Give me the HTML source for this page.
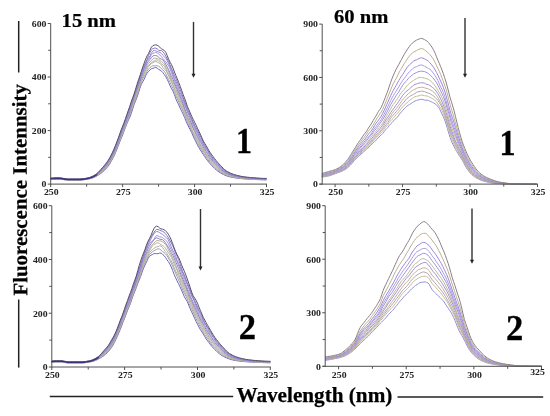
<!DOCTYPE html>
<html><head><meta charset="utf-8"><style>
html,body{margin:0;padding:0;background:#fff;overflow:hidden;}
svg{display:block;will-change:transform;}
text{font-family:"Liberation Serif",serif;font-weight:bold;fill:#111;}
.tl text{font-size:9.6px;fill:#222;}
.big text{font-size:34.5px;text-anchor:middle;fill:#000;stroke:#000;stroke-width:0.3px;}
.title text{font-size:20.6px;fill:#000;stroke:#000;stroke-width:0.25px;}
text.ax{font-size:21.2px;fill:#000;stroke:#000;stroke-width:0.25px;}
</style></head><body>
<svg width="550" height="416" viewBox="0 0 550 416">
<g fill="none" stroke-width="1.0" stroke-linejoin="round">
<path d="M50.70,179.35 L52.14,179.24 L53.58,179.16 L55.02,179.11 L56.45,179.09 L57.89,179.08 L59.33,179.08 L60.77,179.16 L62.21,179.36 L63.65,179.62 L65.09,179.87 L66.53,180.07 L67.96,180.15 L69.40,180.15 L70.84,180.15 L72.28,180.15 L73.72,180.15 L75.16,180.15 L76.60,180.15 L78.03,180.15 L79.47,180.15 L80.91,180.11 L82.35,179.98 L83.79,179.80 L85.23,179.58 L86.67,179.33 L88.11,179.08 L89.54,178.80 L90.98,178.44 L92.42,178.01 L93.86,177.45 L95.30,176.75 L96.74,175.98 L98.18,175.15 L99.61,174.25 L101.05,173.24 L102.49,172.11 L103.93,170.84 L105.37,169.39 L106.81,167.78 L108.25,166.02 L109.69,163.94 L111.12,161.47 L112.56,158.83 L114.00,156.02 L115.44,152.74 L116.88,149.30 L118.32,145.76 L119.76,141.90 L121.19,138.35 L122.63,134.85 L124.07,130.94 L125.51,127.24 L126.95,123.60 L128.39,120.13 L129.83,117.19 L131.27,113.47 L132.70,108.88 L134.14,104.57 L135.58,100.80 L137.02,97.12 L138.46,92.93 L139.90,88.25 L141.34,84.25 L142.77,81.71 L144.21,79.07 L145.65,75.74 L147.09,73.21 L148.53,71.53 L149.97,69.85 L151.41,68.72 L152.85,68.36 L154.28,67.80 L155.72,67.39 L157.16,68.14 L158.60,69.27 L160.04,70.10 L161.48,71.16 L162.92,72.66 L164.35,74.60 L165.79,76.81 L167.23,79.31 L168.67,82.38 L170.11,85.84 L171.55,88.74 L172.99,91.09 L174.43,94.55 L175.86,98.84 L177.30,102.09 L178.74,104.83 L180.18,108.10 L181.62,111.15 L183.06,114.05 L184.50,117.42 L185.93,120.89 L187.37,124.13 L188.81,127.11 L190.25,129.88 L191.69,132.73 L193.13,136.02 L194.57,139.23 L196.01,141.99 L197.44,144.88 L198.88,147.68 L200.32,149.95 L201.76,152.15 L203.20,154.41 L204.64,156.52 L206.08,158.60 L207.51,160.65 L208.95,162.44 L210.39,164.04 L211.83,165.59 L213.27,167.09 L214.71,168.53 L216.15,169.82 L217.59,170.97 L219.02,172.02 L220.46,172.92 L221.90,173.73 L223.34,174.47 L224.78,175.15 L226.22,175.76 L227.66,176.27 L229.09,176.67 L230.53,177.00 L231.97,177.30 L233.41,177.57 L234.85,177.82 L236.29,178.03 L237.73,178.23 L239.17,178.40 L240.60,178.55 L242.04,178.68 L243.48,178.80 L244.92,178.92 L246.36,179.02 L247.80,179.11 L249.24,179.20 L250.67,179.28 L252.11,179.35 L253.55,179.42 L254.99,179.49 L256.43,179.55 L257.87,179.61 L259.31,179.67 L260.75,179.72 L262.18,179.77 L263.62,179.82 L265.06,179.85 L266.50,179.88" stroke="#6c64bc"/>
<path d="M50.70,179.22 L52.14,179.10 L53.58,179.03 L55.02,178.98 L56.45,178.96 L57.89,178.95 L59.33,178.95 L60.77,179.03 L62.21,179.22 L63.65,179.48 L65.09,179.74 L66.53,179.94 L67.96,180.02 L69.40,180.02 L70.84,180.02 L72.28,180.02 L73.72,180.02 L75.16,180.02 L76.60,180.02 L78.03,180.02 L79.47,180.02 L80.91,179.97 L82.35,179.85 L83.79,179.67 L85.23,179.45 L86.67,179.20 L88.11,178.95 L89.54,178.65 L90.98,178.27 L92.42,177.82 L93.86,177.24 L95.30,176.52 L96.74,175.72 L98.18,174.85 L99.61,173.87 L101.05,172.79 L102.49,171.60 L103.93,170.28 L105.37,168.80 L106.81,167.16 L108.25,165.29 L109.69,163.14 L111.12,160.79 L112.56,158.27 L114.00,155.44 L115.44,152.21 L116.88,148.45 L118.32,144.53 L119.76,141.16 L121.19,137.77 L122.63,133.77 L124.07,129.79 L125.51,126.31 L126.95,123.00 L128.39,119.35 L129.83,115.18 L131.27,111.13 L132.70,107.50 L134.14,103.55 L135.58,99.27 L137.02,94.93 L138.46,90.95 L139.90,86.71 L141.34,82.00 L142.77,78.81 L144.21,76.55 L145.65,73.85 L147.09,71.18 L148.53,69.08 L149.97,67.60 L151.41,66.43 L152.85,65.81 L154.28,65.80 L155.72,65.77 L157.16,65.83 L158.60,66.16 L160.04,67.17 L161.48,68.82 L162.92,70.10 L164.35,71.29 L165.79,73.74 L167.23,76.91 L168.67,79.56 L170.11,82.53 L171.55,85.61 L172.99,88.69 L174.43,92.54 L175.86,95.93 L177.30,98.80 L178.74,102.13 L180.18,105.34 L181.62,108.07 L183.06,111.11 L184.50,114.57 L185.93,118.13 L187.37,121.93 L188.81,125.09 L190.25,127.90 L191.69,131.06 L193.13,134.06 L194.57,137.20 L196.01,140.25 L197.44,142.90 L198.88,145.52 L200.32,148.02 L201.76,150.31 L203.20,152.66 L204.64,155.03 L206.08,157.20 L207.51,159.19 L208.95,161.01 L210.39,162.70 L211.83,164.42 L213.27,166.01 L214.71,167.43 L216.15,168.78 L217.59,170.00 L219.02,171.12 L220.46,172.08 L221.90,172.96 L223.34,173.79 L224.78,174.54 L226.22,175.20 L227.66,175.75 L229.09,176.20 L230.53,176.57 L231.97,176.91 L233.41,177.21 L234.85,177.47 L236.29,177.71 L237.73,177.92 L239.17,178.11 L240.60,178.28 L242.04,178.43 L243.48,178.57 L244.92,178.69 L246.36,178.80 L247.80,178.90 L249.24,179.00 L250.67,179.08 L252.11,179.16 L253.55,179.24 L254.99,179.31 L256.43,179.38 L257.87,179.45 L259.31,179.51 L260.75,179.56 L262.18,179.61 L263.62,179.66 L265.06,179.69 L266.50,179.72" stroke="#9e9eaa"/>
<path d="M50.70,179.08 L52.14,178.97 L53.58,178.89 L55.02,178.85 L56.45,178.82 L57.89,178.81 L59.33,178.81 L60.77,178.89 L62.21,179.09 L63.65,179.35 L65.09,179.61 L66.53,179.80 L67.96,179.88 L69.40,179.88 L70.84,179.88 L72.28,179.88 L73.72,179.88 L75.16,179.88 L76.60,179.88 L78.03,179.88 L79.47,179.88 L80.91,179.84 L82.35,179.72 L83.79,179.54 L85.23,179.32 L86.67,179.07 L88.11,178.81 L89.54,178.50 L90.98,178.10 L92.42,177.62 L93.86,177.02 L95.30,176.28 L96.74,175.45 L98.18,174.52 L99.61,173.47 L101.05,172.29 L102.49,171.03 L103.93,169.72 L105.37,168.29 L106.81,166.56 L108.25,164.59 L109.69,162.52 L111.12,160.23 L112.56,157.52 L114.00,154.47 L115.44,151.08 L116.88,147.30 L118.32,143.56 L119.76,140.13 L121.19,136.63 L122.63,132.94 L124.07,129.19 L125.51,125.67 L126.95,121.62 L128.39,117.04 L129.83,113.27 L131.27,109.18 L132.70,104.63 L134.14,101.00 L135.58,97.52 L137.02,93.68 L138.46,89.41 L139.90,84.86 L141.34,80.61 L142.77,76.94 L144.21,74.20 L145.65,71.66 L147.09,68.92 L148.53,66.69 L149.97,64.92 L151.41,63.51 L152.85,62.77 L154.28,61.87 L155.72,61.38 L157.16,62.16 L158.60,62.88 L160.04,63.46 L161.48,65.06 L162.92,67.54 L164.35,69.24 L165.79,70.40 L167.23,72.88 L168.67,76.18 L170.11,79.31 L171.55,82.22 L172.99,85.67 L174.43,89.61 L175.86,93.13 L177.30,96.33 L178.74,99.75 L180.18,103.47 L181.62,107.11 L183.06,110.14 L184.50,113.28 L185.93,116.76 L187.37,119.69 L188.81,122.65 L190.25,126.15 L191.69,129.56 L193.13,132.47 L194.57,135.36 L196.01,138.45 L197.44,141.23 L198.88,143.76 L200.32,146.30 L201.76,148.87 L203.20,151.15 L204.64,153.16 L206.08,155.50 L207.51,157.83 L208.95,159.77 L210.39,161.48 L211.83,163.16 L213.27,164.77 L214.71,166.25 L216.15,167.67 L217.59,168.94 L219.02,170.06 L220.46,171.11 L221.90,172.12 L223.34,173.05 L224.78,173.88 L226.22,174.60 L227.66,175.19 L229.09,175.68 L230.53,176.10 L231.97,176.48 L233.41,176.81 L234.85,177.10 L236.29,177.36 L237.73,177.60 L239.17,177.81 L240.60,178.00 L242.04,178.17 L243.48,178.33 L244.92,178.46 L246.36,178.58 L247.80,178.69 L249.24,178.79 L250.67,178.88 L252.11,178.97 L253.55,179.05 L254.99,179.13 L256.43,179.21 L257.87,179.28 L259.31,179.34 L260.75,179.40 L262.18,179.45 L263.62,179.49 L265.06,179.53 L266.50,179.56" stroke="#aeb0a0"/>
<path d="M50.70,178.95 L52.14,178.83 L53.58,178.76 L55.02,178.71 L56.45,178.69 L57.89,178.68 L59.33,178.68 L60.77,178.76 L62.21,178.96 L63.65,179.22 L65.09,179.47 L66.53,179.67 L67.96,179.75 L69.40,179.75 L70.84,179.75 L72.28,179.75 L73.72,179.75 L75.16,179.75 L76.60,179.75 L78.03,179.75 L79.47,179.75 L80.91,179.71 L82.35,179.59 L83.79,179.41 L85.23,179.19 L86.67,178.94 L88.11,178.68 L89.54,178.36 L90.98,177.94 L92.42,177.44 L93.86,176.83 L95.30,176.07 L96.74,175.22 L98.18,174.25 L99.61,173.14 L101.05,171.93 L102.49,170.63 L103.93,169.21 L105.37,167.68 L106.81,165.98 L108.25,164.05 L109.69,161.92 L111.12,159.50 L112.56,156.64 L114.00,153.65 L115.44,150.54 L116.88,146.82 L118.32,143.01 L119.76,139.20 L121.19,135.07 L122.63,131.53 L124.07,128.34 L125.51,124.40 L126.95,120.36 L128.39,116.59 L129.83,112.71 L131.27,108.77 L132.70,104.41 L134.14,100.21 L135.58,96.54 L137.02,92.60 L138.46,88.35 L139.90,84.21 L141.34,80.42 L142.77,76.76 L144.21,73.02 L145.65,69.39 L147.09,66.91 L148.53,65.74 L149.97,64.09 L151.41,62.39 L152.85,61.64 L154.28,60.85 L155.72,60.05 L157.16,59.96 L158.60,60.93 L160.04,62.40 L161.48,63.71 L162.92,64.78 L164.35,66.17 L165.79,68.82 L167.23,71.80 L168.67,74.51 L170.11,77.65 L171.55,81.19 L172.99,84.67 L174.43,87.82 L175.86,90.78 L177.30,93.71 L178.74,97.15 L180.18,100.82 L181.62,104.28 L183.06,107.66 L184.50,110.91 L185.93,114.32 L187.37,118.00 L188.81,121.54 L190.25,124.86 L191.69,128.46 L193.13,131.66 L194.57,134.25 L196.01,136.89 L197.44,139.28 L198.88,141.83 L200.32,144.92 L201.76,147.63 L203.20,149.84 L204.64,152.09 L206.08,154.40 L207.51,156.53 L208.95,158.48 L210.39,160.43 L211.83,162.26 L213.27,163.84 L214.71,165.37 L216.15,166.82 L217.59,168.14 L219.02,169.35 L220.46,170.44 L221.90,171.49 L223.34,172.49 L224.78,173.38 L226.22,174.13 L227.66,174.76 L229.09,175.29 L230.53,175.74 L231.97,176.14 L233.41,176.49 L234.85,176.81 L236.29,177.08 L237.73,177.34 L239.17,177.56 L240.60,177.77 L242.04,177.95 L243.48,178.12 L244.92,178.26 L246.36,178.38 L247.80,178.50 L249.24,178.60 L250.67,178.70 L252.11,178.79 L253.55,178.88 L254.99,178.96 L256.43,179.04 L257.87,179.12 L259.31,179.18 L260.75,179.24 L262.18,179.30 L263.62,179.34 L265.06,179.37 L266.50,179.40" stroke="#b8b0a0"/>
<path d="M50.70,178.81 L52.14,178.70 L53.58,178.63 L55.02,178.58 L56.45,178.56 L57.89,178.55 L59.33,178.55 L60.77,178.63 L62.21,178.82 L63.65,179.08 L65.09,179.34 L66.53,179.54 L67.96,179.62 L69.40,179.62 L70.84,179.62 L72.28,179.62 L73.72,179.62 L75.16,179.62 L76.60,179.62 L78.03,179.62 L79.47,179.62 L80.91,179.57 L82.35,179.46 L83.79,179.28 L85.23,179.06 L86.67,178.81 L88.11,178.55 L89.54,178.22 L90.98,177.78 L92.42,177.26 L93.86,176.63 L95.30,175.86 L96.74,174.98 L98.18,173.96 L99.61,172.79 L101.05,171.52 L102.49,170.18 L103.93,168.73 L105.37,167.12 L106.81,165.40 L108.25,163.45 L109.69,161.13 L111.12,158.67 L112.56,155.98 L114.00,152.84 L115.44,149.42 L116.88,145.87 L118.32,142.12 L119.76,138.56 L121.19,135.04 L122.63,130.86 L124.07,126.84 L125.51,123.35 L126.95,119.95 L128.39,116.69 L129.83,112.91 L131.27,108.29 L132.70,103.77 L134.14,99.65 L135.58,95.20 L137.02,90.77 L138.46,86.62 L139.90,82.10 L141.34,78.05 L142.77,74.89 L144.21,71.82 L145.65,68.86 L147.09,65.74 L148.53,63.38 L149.97,62.03 L151.41,60.49 L152.85,58.93 L154.28,58.11 L155.72,58.15 L157.16,58.59 L158.60,59.33 L160.04,60.45 L161.48,61.57 L162.92,62.52 L164.35,64.11 L165.79,66.90 L167.23,69.48 L168.67,71.92 L170.11,75.52 L171.55,79.06 L172.99,82.02 L174.43,85.07 L175.86,88.45 L177.30,92.14 L178.74,95.43 L180.18,98.43 L181.62,102.07 L183.06,105.80 L184.50,109.14 L185.93,113.13 L187.37,117.09 L188.81,120.04 L190.25,122.86 L191.69,125.90 L193.13,128.86 L194.57,131.78 L196.01,134.82 L197.44,137.61 L198.88,140.50 L200.32,143.81 L201.76,146.56 L203.20,148.78 L204.64,151.23 L206.08,153.58 L207.51,155.58 L208.95,157.62 L210.39,159.54 L211.83,161.08 L213.27,162.60 L214.71,164.25 L216.15,165.83 L217.59,167.25 L219.02,168.54 L220.46,169.70 L221.90,170.81 L223.34,171.87 L224.78,172.82 L226.22,173.62 L227.66,174.28 L229.09,174.85 L230.53,175.33 L231.97,175.77 L233.41,176.15 L234.85,176.48 L236.29,176.78 L237.73,177.05 L239.17,177.30 L240.60,177.52 L242.04,177.72 L243.48,177.89 L244.92,178.05 L246.36,178.18 L247.80,178.30 L249.24,178.41 L250.67,178.51 L252.11,178.61 L253.55,178.70 L254.99,178.79 L256.43,178.88 L257.87,178.95 L259.31,179.02 L260.75,179.09 L262.18,179.14 L263.62,179.18 L265.06,179.22 L266.50,179.24" stroke="#b2aa96"/>
<path d="M50.70,178.68 L52.14,178.57 L53.58,178.49 L55.02,178.45 L56.45,178.42 L57.89,178.41 L59.33,178.41 L60.77,178.49 L62.21,178.69 L63.65,178.95 L65.09,179.21 L66.53,179.40 L67.96,179.48 L69.40,179.48 L70.84,179.48 L72.28,179.48 L73.72,179.48 L75.16,179.48 L76.60,179.48 L78.03,179.48 L79.47,179.48 L80.91,179.44 L82.35,179.32 L83.79,179.15 L85.23,178.93 L86.67,178.68 L88.11,178.41 L89.54,178.07 L90.98,177.61 L92.42,177.06 L93.86,176.42 L95.30,175.63 L96.74,174.72 L98.18,173.65 L99.61,172.43 L101.05,171.09 L102.49,169.70 L103.93,168.22 L105.37,166.59 L106.81,164.79 L108.25,162.73 L109.69,160.52 L111.12,158.15 L112.56,155.35 L114.00,152.34 L115.44,148.97 L116.88,145.40 L118.32,141.85 L119.76,137.93 L121.19,133.84 L122.63,130.03 L124.07,126.40 L125.51,122.60 L126.95,118.94 L128.39,115.25 L129.83,110.90 L131.27,106.24 L132.70,101.62 L134.14,97.17 L135.58,93.20 L137.02,89.24 L138.46,85.18 L139.90,81.28 L141.34,76.88 L142.77,72.80 L144.21,69.66 L145.65,66.55 L147.09,63.52 L148.53,61.22 L149.97,59.47 L151.41,57.61 L152.85,55.98 L154.28,55.47 L155.72,55.55 L157.16,55.94 L158.60,57.25 L160.04,58.57 L161.48,59.16 L162.92,59.88 L164.35,61.70 L165.79,64.45 L167.23,67.12 L168.67,69.78 L170.11,73.17 L171.55,76.43 L172.99,79.44 L174.43,83.00 L175.86,86.35 L177.30,89.62 L178.74,93.19 L180.18,96.40 L181.62,99.65 L183.06,103.78 L184.50,108.10 L185.93,111.66 L187.37,114.60 L188.81,117.55 L190.25,120.76 L191.69,124.11 L193.13,127.39 L194.57,130.44 L196.01,133.25 L197.44,136.03 L198.88,138.90 L200.32,141.46 L201.76,143.90 L203.20,146.74 L204.64,149.36 L206.08,151.46 L207.51,153.79 L208.95,156.07 L210.39,158.00 L211.83,159.88 L213.27,161.70 L214.71,163.36 L216.15,164.87 L217.59,166.24 L219.02,167.55 L220.46,168.82 L221.90,170.01 L223.34,171.16 L224.78,172.21 L226.22,173.07 L227.66,173.77 L229.09,174.37 L230.53,174.90 L231.97,175.37 L233.41,175.78 L234.85,176.14 L236.29,176.46 L237.73,176.75 L239.17,177.01 L240.60,177.25 L242.04,177.47 L243.48,177.66 L244.92,177.83 L246.36,177.97 L247.80,178.09 L249.24,178.21 L250.67,178.32 L252.11,178.42 L253.55,178.52 L254.99,178.62 L256.43,178.71 L257.87,178.79 L259.31,178.86 L260.75,178.93 L262.18,178.98 L263.62,179.02 L265.06,179.06 L266.50,179.08" stroke="#8a7ec6"/>
<path d="M50.70,178.55 L52.14,178.43 L53.58,178.36 L55.02,178.31 L56.45,178.29 L57.89,178.28 L59.33,178.28 L60.77,178.36 L62.21,178.56 L63.65,178.81 L65.09,179.07 L66.53,179.27 L67.96,179.35 L69.40,179.35 L70.84,179.35 L72.28,179.35 L73.72,179.35 L75.16,179.35 L76.60,179.35 L78.03,179.35 L79.47,179.35 L80.91,179.31 L82.35,179.19 L83.79,179.02 L85.23,178.80 L86.67,178.54 L88.11,178.28 L89.54,177.92 L90.98,177.44 L92.42,176.87 L93.86,176.21 L95.30,175.40 L96.74,174.46 L98.18,173.34 L99.61,172.03 L101.05,170.59 L102.49,169.11 L103.93,167.64 L105.37,166.02 L106.81,164.16 L108.25,162.06 L109.69,159.78 L111.12,157.33 L112.56,154.60 L114.00,151.61 L115.44,148.25 L116.88,144.49 L118.32,140.35 L119.76,136.28 L121.19,132.86 L122.63,129.27 L124.07,125.41 L125.51,121.81 L126.95,117.91 L128.39,113.57 L129.83,109.61 L131.27,105.69 L132.70,101.19 L134.14,96.95 L135.58,92.64 L137.02,88.02 L138.46,83.52 L139.90,79.15 L141.34,75.22 L142.77,71.57 L144.21,68.20 L145.65,64.85 L147.09,61.63 L148.53,59.66 L149.97,57.44 L151.41,54.58 L152.85,53.41 L154.28,52.95 L155.72,52.45 L157.16,52.92 L158.60,53.97 L160.04,55.22 L161.48,56.65 L162.92,58.42 L164.35,60.16 L165.79,61.84 L167.23,63.93 L168.67,66.05 L170.11,68.98 L171.55,72.90 L172.99,76.48 L174.43,80.05 L175.86,83.90 L177.30,87.87 L178.74,91.60 L180.18,95.02 L181.62,98.39 L183.06,101.71 L184.50,104.96 L185.93,108.12 L187.37,111.67 L188.81,115.10 L190.25,118.17 L191.69,121.57 L193.13,125.02 L194.57,128.19 L196.01,131.02 L197.44,133.72 L198.88,136.68 L200.32,139.67 L201.76,142.54 L203.20,145.25 L204.64,147.84 L206.08,150.25 L207.51,152.39 L208.95,154.59 L210.39,156.71 L211.83,158.62 L213.27,160.46 L214.71,162.14 L216.15,163.68 L217.59,165.24 L219.02,166.70 L220.46,168.02 L221.90,169.29 L223.34,170.49 L224.78,171.59 L226.22,172.50 L227.66,173.25 L229.09,173.90 L230.53,174.47 L231.97,174.97 L233.41,175.41 L234.85,175.79 L236.29,176.13 L237.73,176.44 L239.17,176.73 L240.60,176.99 L242.04,177.22 L243.48,177.43 L244.92,177.60 L246.36,177.75 L247.80,177.88 L249.24,178.00 L250.67,178.12 L252.11,178.24 L253.55,178.34 L254.99,178.44 L256.43,178.54 L257.87,178.62 L259.31,178.70 L260.75,178.77 L262.18,178.82 L263.62,178.86 L265.06,178.90 L266.50,178.91" stroke="#a294d6"/>
<path d="M50.70,178.41 L52.14,178.30 L53.58,178.22 L55.02,178.18 L56.45,178.15 L57.89,178.15 L59.33,178.14 L60.77,178.22 L62.21,178.42 L63.65,178.68 L65.09,178.94 L66.53,179.14 L67.96,179.22 L69.40,179.22 L70.84,179.22 L72.28,179.22 L73.72,179.22 L75.16,179.22 L76.60,179.22 L78.03,179.22 L79.47,179.22 L80.91,179.17 L82.35,179.06 L83.79,178.88 L85.23,178.66 L86.67,178.41 L88.11,178.14 L89.54,177.78 L90.98,177.27 L92.42,176.69 L93.86,176.01 L95.30,175.18 L96.74,174.22 L98.18,173.05 L99.61,171.68 L101.05,170.22 L102.49,168.73 L103.93,167.13 L105.37,165.48 L106.81,163.71 L108.25,161.56 L109.69,159.16 L111.12,156.67 L112.56,153.90 L114.00,150.76 L115.44,147.19 L116.88,143.25 L118.32,139.39 L119.76,135.62 L121.19,131.83 L122.63,128.37 L124.07,124.74 L125.51,120.46 L126.95,116.37 L128.39,112.81 L129.83,108.96 L131.27,105.10 L132.70,101.12 L134.14,96.11 L135.58,91.62 L137.02,87.86 L138.46,83.41 L139.90,78.67 L141.34,74.44 L142.77,71.08 L144.21,67.25 L145.65,62.82 L147.09,59.88 L148.53,58.24 L149.97,55.76 L151.41,53.06 L152.85,51.12 L154.28,50.25 L155.72,50.72 L157.16,51.46 L158.60,52.00 L160.04,52.45 L161.48,53.56 L162.92,55.46 L164.35,56.89 L165.79,58.14 L167.23,60.66 L168.67,63.77 L170.11,66.85 L171.55,70.56 L172.99,74.54 L174.43,78.26 L175.86,81.33 L177.30,84.61 L178.74,88.79 L180.18,92.63 L181.62,95.88 L183.06,99.17 L184.50,102.95 L185.93,107.34 L187.37,111.12 L188.81,113.72 L190.25,116.33 L191.69,119.63 L193.13,123.17 L194.57,126.41 L196.01,129.41 L197.44,132.35 L198.88,135.37 L200.32,138.46 L201.76,141.28 L203.20,143.81 L204.64,146.28 L206.08,148.56 L207.51,150.72 L208.95,153.02 L210.39,155.48 L211.83,157.76 L213.27,159.60 L214.71,161.22 L216.15,162.89 L217.59,164.46 L219.02,165.80 L220.46,167.17 L221.90,168.62 L223.34,169.93 L224.78,171.07 L226.22,172.00 L227.66,172.77 L229.09,173.46 L230.53,174.07 L231.97,174.60 L233.41,175.07 L234.85,175.47 L236.29,175.83 L237.73,176.16 L239.17,176.46 L240.60,176.74 L242.04,176.99 L243.48,177.21 L244.92,177.39 L246.36,177.55 L247.80,177.68 L249.24,177.81 L250.67,177.94 L252.11,178.05 L253.55,178.17 L254.99,178.27 L256.43,178.37 L257.87,178.46 L259.31,178.54 L260.75,178.61 L262.18,178.66 L263.62,178.71 L265.06,178.74 L266.50,178.75" stroke="#9484cc"/>
<path d="M50.70,178.28 L52.14,178.17 L53.58,178.09 L55.02,178.04 L56.45,178.02 L57.89,178.01 L59.33,178.01 L60.77,178.09 L62.21,178.29 L63.65,178.55 L65.09,178.80 L66.53,179.00 L67.96,179.08 L69.40,179.08 L70.84,179.08 L72.28,179.08 L73.72,179.08 L75.16,179.08 L76.60,179.08 L78.03,179.08 L79.47,179.08 L80.91,179.04 L82.35,178.93 L83.79,178.75 L85.23,178.53 L86.67,178.28 L88.11,178.01 L89.54,177.63 L90.98,177.11 L92.42,176.49 L93.86,175.80 L95.30,174.95 L96.74,173.96 L98.18,172.74 L99.61,171.31 L101.05,169.75 L102.49,168.14 L103.93,166.52 L105.37,164.87 L106.81,163.02 L108.25,160.81 L109.69,158.37 L111.12,155.92 L112.56,153.21 L114.00,149.97 L115.44,146.38 L116.88,142.56 L118.32,138.81 L119.76,135.19 L121.19,131.03 L122.63,127.13 L124.07,123.83 L125.51,119.61 L126.95,115.12 L128.39,111.14 L129.83,106.62 L131.27,102.14 L132.70,98.55 L134.14,94.93 L135.58,90.56 L137.02,85.89 L138.46,81.50 L139.90,77.14 L141.34,72.59 L142.77,68.62 L144.21,65.53 L145.65,62.68 L147.09,59.18 L148.53,55.45 L149.97,52.40 L151.41,49.94 L152.85,48.57 L154.28,48.16 L155.72,48.09 L157.16,48.84 L158.60,50.14 L160.04,50.54 L161.48,50.59 L162.92,51.75 L164.35,53.59 L165.79,56.08 L167.23,58.91 L168.67,61.58 L170.11,64.87 L171.55,68.50 L172.99,71.95 L174.43,75.40 L175.86,78.45 L177.30,81.87 L178.74,85.73 L180.18,89.38 L181.62,93.30 L183.06,97.29 L184.50,101.13 L185.93,104.74 L187.37,108.23 L188.81,111.91 L190.25,115.45 L191.69,118.73 L193.13,122.04 L194.57,125.15 L196.01,127.77 L197.44,130.37 L198.88,133.27 L200.32,136.09 L201.76,138.88 L203.20,141.99 L204.64,144.75 L206.08,147.20 L207.51,149.78 L208.95,152.17 L210.39,154.39 L211.83,156.52 L213.27,158.43 L214.71,160.10 L216.15,161.80 L217.59,163.40 L219.02,164.82 L220.46,166.29 L221.90,167.81 L223.34,169.22 L224.78,170.45 L226.22,171.44 L227.66,172.25 L229.09,172.98 L230.53,173.63 L231.97,174.20 L233.41,174.70 L234.85,175.13 L236.29,175.50 L237.73,175.86 L239.17,176.18 L240.60,176.48 L242.04,176.74 L243.48,176.97 L244.92,177.17 L246.36,177.33 L247.80,177.47 L249.24,177.61 L250.67,177.74 L252.11,177.87 L253.55,177.99 L254.99,178.10 L256.43,178.20 L257.87,178.29 L259.31,178.38 L260.75,178.45 L262.18,178.50 L263.62,178.55 L265.06,178.58 L266.50,178.59" stroke="#8474c2"/>
<path d="M50.70,178.14 L52.14,178.03 L53.58,177.96 L55.02,177.91 L56.45,177.89 L57.89,177.88 L59.33,177.88 L60.77,177.96 L62.21,178.15 L63.65,178.41 L65.09,178.67 L66.53,178.87 L67.96,178.95 L69.40,178.95 L70.84,178.95 L72.28,178.95 L73.72,178.95 L75.16,178.95 L76.60,178.95 L78.03,178.95 L79.47,178.95 L80.91,178.91 L82.35,178.80 L83.79,178.62 L85.23,178.41 L86.67,178.15 L88.11,177.88 L89.54,177.49 L90.98,176.93 L92.42,176.29 L93.86,175.57 L95.30,174.70 L96.74,173.68 L98.18,172.38 L99.61,170.85 L101.05,169.22 L102.49,167.60 L103.93,165.97 L105.37,164.16 L106.81,162.26 L108.25,160.25 L109.69,157.85 L111.12,155.11 L112.56,152.20 L114.00,149.01 L115.44,145.49 L116.88,141.78 L118.32,137.89 L119.76,133.75 L121.19,129.75 L122.63,126.20 L124.07,122.53 L125.51,118.44 L126.95,114.31 L128.39,110.30 L129.83,106.24 L131.27,101.79 L132.70,97.69 L134.14,93.77 L135.58,89.12 L137.02,84.32 L138.46,79.91 L139.90,75.83 L141.34,71.44 L142.77,66.98 L144.21,63.00 L145.65,59.05 L147.09,55.82 L148.53,53.44 L149.97,50.26 L151.41,47.17 L152.85,45.69 L154.28,45.09 L155.72,44.88 L157.16,45.21 L158.60,46.08 L160.04,47.50 L161.48,48.79 L162.92,49.59 L164.35,50.56 L165.79,52.37 L167.23,55.58 L168.67,59.40 L170.11,62.26 L171.55,64.68 L172.99,68.05 L174.43,72.02 L175.86,75.51 L177.30,78.89 L178.74,82.49 L180.18,86.27 L181.62,90.28 L183.06,94.36 L184.50,98.05 L185.93,102.01 L187.37,106.35 L188.81,109.68 L190.25,112.85 L191.69,116.29 L193.13,119.23 L194.57,122.11 L196.01,125.05 L197.44,128.15 L198.88,131.15 L200.32,134.14 L201.76,137.44 L203.20,140.69 L204.64,143.27 L206.08,145.47 L207.51,148.09 L208.95,150.67 L210.39,152.87 L211.83,154.91 L213.27,156.83 L214.71,158.73 L216.15,160.57 L217.59,162.25 L219.02,163.84 L220.46,165.38 L221.90,166.87 L223.34,168.36 L224.78,169.77 L226.22,170.84 L227.66,171.65 L229.09,172.42 L230.53,173.13 L231.97,173.75 L233.41,174.28 L234.85,174.74 L236.29,175.14 L237.73,175.52 L239.17,175.87 L240.60,176.18 L242.04,176.47 L243.48,176.72 L244.92,176.93 L246.36,177.10 L247.80,177.25 L249.24,177.39 L250.67,177.53 L252.11,177.67 L253.55,177.79 L254.99,177.91 L256.43,178.02 L257.87,178.12 L259.31,178.21 L260.75,178.28 L262.18,178.34 L263.62,178.38 L265.06,178.41 L266.50,178.42" stroke="#58526a"/>
<path d="M50.70,178.75 L52.14,178.63 L53.58,178.56 L55.02,178.51 L56.45,178.49 L57.89,178.48 L59.33,178.48 L60.77,178.56 L62.21,178.76 L63.65,179.01 L65.09,179.27 L66.53,179.47 L67.96,179.55 L69.40,179.55 L70.84,179.55 L72.28,179.55 L73.72,179.55 L75.16,179.55 L76.60,179.55 L78.03,179.55 L79.47,179.55 L80.91,179.51 L82.35,179.39 L83.79,179.21 L85.23,178.99 L86.67,178.74 L88.11,178.48 L89.54,178.14 L90.98,177.68 L92.42,177.14 L93.86,176.50 L95.30,175.71 L96.74,174.81" stroke="#3c3080" stroke-width="1.3" stroke-linecap="round"/>
<path d="M51.80,362.23 L53.26,362.11 L54.71,362.04 L56.17,361.99 L57.63,361.97 L59.08,361.96 L60.54,361.96 L62.00,362.04 L63.45,362.24 L64.91,362.50 L66.37,362.76 L67.82,362.96 L69.28,363.03 L70.74,363.03 L72.19,363.03 L73.65,363.03 L75.11,363.03 L76.56,363.03 L78.02,363.03 L79.48,363.03 L80.93,363.03 L82.39,362.99 L83.85,362.86 L85.30,362.68 L86.76,362.45 L88.22,362.21 L89.67,361.96 L91.13,361.69 L92.59,361.35 L94.04,360.95 L95.50,360.41 L96.96,359.72 L98.41,358.98 L99.87,358.21 L101.33,357.37 L102.78,356.44 L104.24,355.39 L105.70,354.16 L107.15,352.71 L108.61,351.11 L110.07,349.38 L111.52,347.46 L112.98,345.14 L114.44,342.33 L115.89,339.41 L117.35,336.39 L118.81,332.98 L120.26,329.39 L121.72,325.55 L123.18,321.71 L124.63,318.14 L126.09,314.32 L127.55,310.30 L129.00,306.84 L130.46,303.36 L131.92,299.07 L133.37,294.94 L134.83,291.41 L136.29,287.68 L137.74,283.64 L139.20,280.00 L140.66,276.31 L142.11,272.06 L143.57,268.28 L145.03,265.03 L146.48,261.96 L147.94,258.87 L149.40,256.30 L150.85,255.21 L152.31,254.62 L153.77,253.72 L155.22,253.45 L156.68,253.78 L158.14,253.69 L159.59,253.00 L161.05,253.00 L162.51,254.24 L163.96,255.50 L165.42,257.32 L166.88,259.70 L168.33,261.60 L169.79,264.04 L171.25,267.01 L172.70,270.57 L174.16,274.46 L175.62,277.76 L177.07,280.83 L178.53,283.70 L179.99,286.78 L181.44,289.98 L182.90,293.28 L184.36,296.82 L185.81,299.27 L187.27,301.51 L188.73,305.06 L190.18,308.80 L191.64,311.87 L193.10,314.90 L194.55,318.18 L196.01,321.39 L197.47,324.17 L198.92,326.94 L200.38,329.64 L201.84,331.88 L203.29,334.07 L204.75,336.63 L206.21,339.07 L207.66,340.98 L209.12,342.85 L210.58,344.79 L212.03,346.58 L213.49,348.19 L214.95,349.69 L216.40,351.10 L217.86,352.42 L219.32,353.65 L220.77,354.77 L222.23,355.75 L223.69,356.57 L225.14,357.28 L226.60,357.94 L228.06,358.55 L229.51,359.09 L230.97,359.56 L232.43,359.92 L233.88,360.21 L235.34,360.47 L236.80,360.71 L238.25,360.93 L239.71,361.12 L241.17,361.29 L242.62,361.44 L244.08,361.57 L245.54,361.68 L246.99,361.79 L248.45,361.89 L249.91,361.98 L251.36,362.07 L252.82,362.15 L254.28,362.22 L255.73,362.29 L257.19,362.35 L258.65,362.41 L260.10,362.47 L261.56,362.53 L263.02,362.58 L264.47,362.63 L265.93,362.68 L267.39,362.73 L268.84,362.76 L270.30,362.80" stroke="#6c64bc"/>
<path d="M51.80,362.09 L53.26,361.98 L54.71,361.90 L56.17,361.86 L57.63,361.83 L59.08,361.83 L60.54,361.82 L62.00,361.90 L63.45,362.10 L64.91,362.36 L66.37,362.62 L67.82,362.82 L69.28,362.90 L70.74,362.90 L72.19,362.90 L73.65,362.90 L75.11,362.90 L76.56,362.90 L78.02,362.90 L79.48,362.90 L80.93,362.90 L82.39,362.86 L83.85,362.73 L85.30,362.55 L86.76,362.33 L88.22,362.08 L89.67,361.82 L91.13,361.54 L92.59,361.17 L94.04,360.74 L95.50,360.17 L96.96,359.46 L98.41,358.68 L99.87,357.84 L101.33,356.91 L102.78,355.89 L104.24,354.75 L105.70,353.46 L107.15,352.00 L108.61,350.38 L110.07,348.61 L111.52,346.61 L112.98,344.18 L114.44,341.35 L115.89,338.37 L117.35,335.25 L118.81,331.87 L120.26,328.12 L121.72,324.36 L123.18,320.84 L124.63,317.48 L126.09,313.78 L127.55,309.99 L129.00,306.63 L130.46,302.49 L131.92,297.69 L133.37,293.78 L134.83,290.43 L136.29,286.82 L137.74,282.90 L139.20,278.27 L140.66,273.35 L142.11,269.32 L143.57,265.91 L145.03,262.83 L146.48,259.77 L147.94,256.86 L149.40,254.67 L150.85,253.06 L152.31,251.89 L153.77,250.99 L155.22,250.08 L156.68,249.24 L158.14,248.85 L159.59,249.05 L161.05,250.17 L162.51,251.53 L163.96,252.52 L165.42,253.76 L166.88,255.54 L168.33,258.01 L169.79,260.66 L171.25,263.17 L172.70,266.43 L174.16,269.84 L175.62,273.01 L177.07,276.63 L178.53,279.96 L179.99,282.94 L181.44,286.73 L182.90,290.53 L184.36,293.43 L185.81,295.99 L187.27,299.06 L188.73,302.90 L190.18,306.24 L191.64,308.88 L193.10,311.90 L194.55,315.18 L196.01,318.45 L197.47,321.52 L198.92,324.31 L200.38,327.09 L201.84,329.70 L203.29,332.16 L204.75,334.68 L206.21,336.98 L207.66,338.87 L209.12,340.92 L210.58,343.17 L212.03,345.11 L213.49,346.74 L214.95,348.21 L216.40,349.66 L217.86,351.05 L219.32,352.32 L220.77,353.49 L222.23,354.54 L223.69,355.47 L225.14,356.30 L226.60,357.07 L228.06,357.77 L229.51,358.39 L230.97,358.91 L232.43,359.33 L233.88,359.67 L235.34,359.98 L236.80,360.26 L238.25,360.51 L239.71,360.73 L241.17,360.93 L242.62,361.10 L244.08,361.26 L245.54,361.40 L246.99,361.52 L248.45,361.64 L249.91,361.74 L251.36,361.84 L252.82,361.93 L254.28,362.01 L255.73,362.08 L257.19,362.15 L258.65,362.22 L260.10,362.29 L261.56,362.35 L263.02,362.41 L264.47,362.46 L265.93,362.51 L267.39,362.56 L268.84,362.59 L270.30,362.62" stroke="#9e9eaa"/>
<path d="M51.80,361.96 L53.26,361.85 L54.71,361.77 L56.17,361.72 L57.63,361.70 L59.08,361.69 L60.54,361.69 L62.00,361.77 L63.45,361.97 L64.91,362.23 L66.37,362.49 L67.82,362.69 L69.28,362.77 L70.74,362.77 L72.19,362.77 L73.65,362.77 L75.11,362.77 L76.56,362.77 L78.02,362.77 L79.48,362.77 L80.93,362.77 L82.39,362.72 L83.85,362.60 L85.30,362.42 L86.76,362.19 L88.22,361.95 L89.67,361.69 L91.13,361.39 L92.59,361.00 L94.04,360.53 L95.50,359.94 L96.96,359.21 L98.41,358.40 L99.87,357.49 L101.33,356.48 L102.78,355.37 L104.24,354.13 L105.70,352.80 L107.15,351.29 L108.61,349.59 L110.07,347.79 L111.52,345.71 L112.98,343.23 L114.44,340.48 L115.89,337.49 L117.35,334.09 L118.81,330.50 L120.26,326.90 L121.72,323.05 L123.18,319.25 L124.63,315.61 L126.09,311.85 L127.55,308.06 L129.00,304.26 L130.46,300.70 L131.92,297.22 L133.37,293.17 L134.83,289.11 L136.29,285.39 L137.74,281.01 L139.20,276.34 L140.66,272.41 L142.11,268.73 L143.57,264.48 L145.03,260.37 L146.48,257.71 L147.94,255.44 L149.40,252.73 L150.85,250.84 L152.31,249.71 L153.77,248.60 L155.22,247.44 L156.68,246.86 L158.14,246.58 L159.59,245.87 L161.05,246.01 L162.51,247.52 L163.96,249.53 L165.42,251.54 L166.88,253.36 L168.33,255.86 L169.79,258.69 L171.25,260.98 L172.70,263.94 L174.16,267.71 L175.62,271.07 L177.07,273.55 L178.53,276.33 L179.99,280.10 L181.44,283.72 L182.90,287.07 L184.36,291.05 L185.81,294.38 L187.27,296.37 L188.73,299.34 L190.18,303.31 L191.64,306.48 L193.10,309.58 L194.55,313.19 L196.01,316.24 L197.47,318.77 L198.92,321.64 L200.38,324.88 L201.84,327.71 L203.29,330.17 L204.75,332.49 L206.21,334.73 L207.66,337.06 L209.12,339.23 L210.58,341.27 L212.03,343.32 L213.49,345.13 L214.95,346.65 L216.40,348.16 L217.86,349.63 L219.32,351.03 L220.77,352.33 L222.23,353.48 L223.69,354.47 L225.14,355.39 L226.60,356.27 L228.06,357.06 L229.51,357.74 L230.97,358.31 L232.43,358.78 L233.88,359.17 L235.34,359.52 L236.80,359.84 L238.25,360.11 L239.71,360.36 L241.17,360.59 L242.62,360.79 L244.08,360.96 L245.54,361.12 L246.99,361.27 L248.45,361.40 L249.91,361.51 L251.36,361.61 L252.82,361.71 L254.28,361.80 L255.73,361.88 L257.19,361.96 L258.65,362.04 L260.10,362.11 L261.56,362.18 L263.02,362.24 L264.47,362.30 L265.93,362.35 L267.39,362.39 L268.84,362.43 L270.30,362.45" stroke="#aeb0a0"/>
<path d="M51.80,361.82 L53.26,361.71 L54.71,361.64 L56.17,361.59 L57.63,361.57 L59.08,361.56 L60.54,361.56 L62.00,361.64 L63.45,361.83 L64.91,362.09 L66.37,362.35 L67.82,362.55 L69.28,362.63 L70.74,362.63 L72.19,362.63 L73.65,362.63 L75.11,362.63 L76.56,362.63 L78.02,362.63 L79.48,362.63 L80.93,362.63 L82.39,362.59 L83.85,362.47 L85.30,362.29 L86.76,362.06 L88.22,361.82 L89.67,361.56 L91.13,361.24 L92.59,360.82 L94.04,360.33 L95.50,359.72 L96.96,358.97 L98.41,358.12 L99.87,357.16 L101.33,356.08 L102.78,354.88 L104.24,353.56 L105.70,352.11 L107.15,350.52 L108.61,348.84 L110.07,347.04 L111.52,344.96 L112.98,342.50 L114.44,339.72 L115.89,336.84 L117.35,333.60 L118.81,330.01 L120.26,326.05 L121.72,322.07 L123.18,318.72 L124.63,314.89 L126.09,310.52 L127.55,306.76 L129.00,303.60 L130.46,299.68 L131.92,294.61 L133.37,290.50 L134.83,287.34 L136.29,283.62 L137.74,279.67 L139.20,275.78 L140.66,271.13 L142.11,266.22 L143.57,262.40 L145.03,259.22 L146.48,255.97 L147.94,253.40 L149.40,251.02 L150.85,248.33 L152.31,246.04 L153.77,244.63 L155.22,243.85 L156.68,243.02 L158.14,242.82 L159.59,243.59 L161.05,244.70 L162.51,245.56 L163.96,246.39 L165.42,248.11 L166.88,250.42 L168.33,252.65 L169.79,254.87 L171.25,257.35 L172.70,260.52 L174.16,264.12 L175.62,267.26 L177.07,270.30 L178.53,274.16 L179.99,278.03 L181.44,281.21 L182.90,284.31 L184.36,287.80 L185.81,291.47 L187.27,294.73 L188.73,297.68 L190.18,300.88 L191.64,304.46 L193.10,308.00 L194.55,310.89 L196.01,313.80 L197.47,316.86 L198.92,319.56 L200.38,322.39 L201.84,325.38 L203.29,328.14 L204.75,330.54 L206.21,332.94 L207.66,335.26 L209.12,337.38 L210.58,339.51 L212.03,341.65 L213.49,343.57 L214.95,345.37 L216.40,347.08 L217.86,348.61 L219.32,349.99 L220.77,351.25 L222.23,352.43 L223.69,353.51 L225.14,354.54 L226.60,355.52 L228.06,356.39 L229.51,357.13 L230.97,357.75 L232.43,358.26 L233.88,358.70 L235.34,359.09 L236.80,359.44 L238.25,359.74 L239.71,360.02 L241.17,360.26 L242.62,360.48 L244.08,360.68 L245.54,360.86 L246.99,361.02 L248.45,361.16 L249.91,361.29 L251.36,361.40 L252.82,361.50 L254.28,361.60 L255.73,361.69 L257.19,361.77 L258.65,361.86 L260.10,361.93 L261.56,362.01 L263.02,362.07 L264.47,362.13 L265.93,362.18 L267.39,362.23 L268.84,362.26 L270.30,362.29" stroke="#b8b0a0"/>
<path d="M51.80,361.69 L53.26,361.58 L54.71,361.50 L56.17,361.46 L57.63,361.43 L59.08,361.42 L60.54,361.42 L62.00,361.50 L63.45,361.70 L64.91,361.96 L66.37,362.22 L67.82,362.42 L69.28,362.50 L70.74,362.50 L72.19,362.50 L73.65,362.50 L75.11,362.50 L76.56,362.50 L78.02,362.50 L79.48,362.50 L80.93,362.50 L82.39,362.45 L83.85,362.33 L85.30,362.16 L86.76,361.93 L88.22,361.68 L89.67,361.42 L91.13,361.09 L92.59,360.66 L94.04,360.14 L95.50,359.51 L96.96,358.74 L98.41,357.87 L99.87,356.85 L101.33,355.70 L102.78,354.42 L104.24,353.07 L105.70,351.62 L107.15,350.03 L108.61,348.31 L110.07,346.38 L111.52,344.17 L112.98,341.64 L114.44,338.80 L115.89,335.73 L117.35,332.39 L118.81,328.87 L120.26,325.03 L121.72,320.91 L123.18,316.79 L124.63,313.00 L126.09,309.34 L127.55,305.43 L129.00,301.97 L130.46,298.68 L131.92,294.50 L133.37,290.29 L134.83,286.30 L136.29,281.85 L137.74,277.87 L139.20,274.09 L140.66,269.98 L142.11,266.06 L143.57,262.05 L145.03,258.04 L146.48,254.47 L147.94,251.73 L149.40,249.13 L150.85,246.53 L152.31,244.75 L153.77,243.31 L155.22,241.67 L156.68,240.50 L158.14,240.68 L159.59,240.94 L161.05,240.96 L162.51,241.82 L163.96,242.98 L165.42,244.40 L166.88,246.60 L168.33,249.62 L169.79,252.50 L171.25,255.03 L172.70,258.13 L174.16,261.26 L175.62,264.84 L177.07,268.97 L178.53,271.85 L179.99,274.54 L181.44,278.35 L182.90,281.97 L184.36,285.20 L185.81,288.61 L187.27,292.33 L188.73,296.02 L190.18,299.33 L191.64,302.35 L193.10,305.41 L194.55,308.86 L196.01,312.13 L197.47,314.97 L198.92,317.74 L200.38,320.64 L201.84,323.60 L203.29,326.53 L204.75,329.27 L206.21,331.72 L207.66,333.98 L209.12,336.27 L210.58,338.57 L212.03,340.60 L213.49,342.41 L214.95,344.18 L216.40,345.89 L217.86,347.49 L219.32,348.94 L220.77,350.27 L222.23,351.54 L223.69,352.71 L225.14,353.81 L226.60,354.84 L228.06,355.78 L229.51,356.57 L230.97,357.23 L232.43,357.78 L233.88,358.26 L235.34,358.69 L236.80,359.07 L238.25,359.40 L239.71,359.69 L241.17,359.96 L242.62,360.20 L244.08,360.42 L245.54,360.61 L246.99,360.79 L248.45,360.94 L249.91,361.07 L251.36,361.19 L252.82,361.30 L254.28,361.40 L255.73,361.50 L257.19,361.59 L258.65,361.68 L260.10,361.76 L261.56,361.84 L263.02,361.91 L264.47,361.97 L265.93,362.02 L267.39,362.07 L268.84,362.10 L270.30,362.12" stroke="#b2aa96"/>
<path d="M51.80,361.56 L53.26,361.44 L54.71,361.37 L56.17,361.32 L57.63,361.30 L59.08,361.29 L60.54,361.29 L62.00,361.37 L63.45,361.57 L64.91,361.82 L66.37,362.08 L67.82,362.28 L69.28,362.36 L70.74,362.36 L72.19,362.36 L73.65,362.36 L75.11,362.36 L76.56,362.36 L78.02,362.36 L79.48,362.36 L80.93,362.36 L82.39,362.32 L83.85,362.20 L85.30,362.03 L86.76,361.80 L88.22,361.55 L89.67,361.29 L91.13,360.94 L92.59,360.48 L94.04,359.93 L95.50,359.28 L96.96,358.49 L98.41,357.58 L99.87,356.50 L101.33,355.28 L102.78,353.91 L104.24,352.47 L105.70,350.99 L107.15,349.36 L108.61,347.52 L110.07,345.61 L111.52,343.45 L112.98,340.94 L114.44,338.03 L115.89,334.77 L117.35,331.49 L118.81,328.35 L120.26,324.76 L121.72,320.27 L123.18,316.12 L124.63,312.69 L126.09,308.97 L127.55,305.42 L129.00,302.53 L130.46,298.84 L131.92,293.84 L133.37,289.46 L134.83,285.75 L136.29,281.51 L137.74,277.20 L139.20,273.18 L140.66,268.52 L142.11,263.43 L143.57,259.24 L145.03,255.85 L146.48,252.38 L147.94,248.98 L149.40,246.14 L150.85,243.96 L152.31,241.99 L153.77,239.97 L155.22,238.37 L156.68,237.89 L158.14,238.45 L159.59,239.13 L161.05,239.38 L162.51,239.69 L163.96,240.94 L165.42,242.84 L166.88,244.87 L168.33,247.26 L169.79,249.91 L171.25,252.56 L172.70,255.17 L174.16,258.09 L175.62,261.55 L177.07,264.92 L178.53,268.28 L179.99,272.04 L181.44,275.87 L182.90,279.39 L184.36,282.93 L185.81,286.46 L187.27,290.00 L188.73,293.82 L190.18,297.17 L191.64,300.21 L193.10,303.62 L194.55,306.89 L196.01,309.88 L197.47,313.07 L198.92,316.19 L200.38,319.07 L201.84,321.76 L203.29,324.05 L204.75,326.75 L206.21,329.77 L207.66,332.05 L209.12,334.11 L210.58,336.41 L212.03,338.68 L213.49,340.69 L214.95,342.51 L216.40,344.35 L217.86,346.06 L219.32,347.60 L220.77,349.01 L222.23,350.36 L223.69,351.65 L225.14,352.89 L226.60,354.05 L228.06,355.07 L229.51,355.92 L230.97,356.62 L232.43,357.23 L233.88,357.76 L235.34,358.23 L236.80,358.65 L238.25,359.00 L239.71,359.32 L241.17,359.62 L242.62,359.88 L244.08,360.12 L245.54,360.34 L246.99,360.53 L248.45,360.70 L249.91,360.84 L251.36,360.96 L252.82,361.08 L254.28,361.19 L255.73,361.30 L257.19,361.40 L258.65,361.49 L260.10,361.58 L261.56,361.67 L263.02,361.74 L264.47,361.80 L265.93,361.86 L267.39,361.90 L268.84,361.93 L270.30,361.95" stroke="#8a7ec6"/>
<path d="M51.80,361.42 L53.26,361.31 L54.71,361.23 L56.17,361.19 L57.63,361.16 L59.08,361.15 L60.54,361.15 L62.00,361.23 L63.45,361.43 L64.91,361.69 L66.37,361.95 L67.82,362.15 L69.28,362.23 L70.74,362.23 L72.19,362.23 L73.65,362.23 L75.11,362.23 L76.56,362.23 L78.02,362.23 L79.48,362.23 L80.93,362.23 L82.39,362.19 L83.85,362.07 L85.30,361.89 L86.76,361.67 L88.22,361.42 L89.67,361.15 L91.13,360.80 L92.59,360.31 L94.04,359.74 L95.50,359.07 L96.96,358.26 L98.41,357.32 L99.87,356.19 L101.33,354.87 L102.78,353.46 L104.24,351.97 L105.70,350.43 L107.15,348.85 L108.61,347.07 L110.07,344.98 L111.52,342.67 L112.98,340.06 L114.44,337.05 L115.89,333.78 L117.35,330.54 L118.81,327.24 L120.26,323.31 L121.72,319.35 L123.18,315.92 L124.63,312.12 L126.09,308.25 L127.55,304.87 L129.00,301.31 L130.46,297.12 L131.92,292.58 L133.37,288.13 L134.83,283.66 L136.29,279.29 L137.74,275.07 L139.20,270.78 L140.66,266.37 L142.11,262.28 L143.57,258.10 L145.03,253.59 L146.48,249.43 L147.94,246.05 L149.40,243.84 L150.85,242.25 L152.31,241.01 L153.77,239.57 L155.22,237.07 L156.68,235.39 L158.14,236.00 L159.59,236.81 L161.05,236.90 L162.51,237.58 L163.96,238.74 L165.42,239.93 L166.88,241.26 L168.33,243.59 L169.79,246.88 L171.25,249.77 L172.70,252.34 L174.16,255.44 L175.62,258.84 L177.07,261.85 L178.53,264.98 L179.99,268.79 L181.44,272.84 L182.90,276.42 L184.36,280.27 L185.81,284.45 L187.27,287.98 L188.73,291.51 L190.18,295.24 L191.64,298.80 L193.10,302.11 L194.55,304.93 L196.01,307.82 L197.47,311.22 L198.92,314.21 L200.38,316.76 L201.84,319.71 L203.29,322.70 L204.75,325.51 L206.21,328.07 L207.66,330.49 L209.12,332.96 L210.58,335.39 L212.03,337.76 L213.49,339.84 L214.95,341.50 L216.40,343.11 L217.86,344.81 L219.32,346.42 L220.77,347.99 L222.23,349.47 L223.69,350.83 L225.14,352.09 L226.60,353.30 L228.06,354.43 L229.51,355.36 L230.97,356.10 L232.43,356.75 L233.88,357.32 L235.34,357.83 L236.80,358.28 L238.25,358.66 L239.71,359.00 L241.17,359.31 L242.62,359.60 L244.08,359.86 L245.54,360.09 L246.99,360.30 L248.45,360.48 L249.91,360.62 L251.36,360.75 L252.82,360.88 L254.28,361.00 L255.73,361.11 L257.19,361.22 L258.65,361.32 L260.10,361.41 L261.56,361.50 L263.02,361.58 L264.47,361.64 L265.93,361.70 L267.39,361.74 L268.84,361.77 L270.30,361.79" stroke="#a294d6"/>
<path d="M51.80,361.29 L53.26,361.17 L54.71,361.10 L56.17,361.05 L57.63,361.03 L59.08,361.02 L60.54,361.02 L62.00,361.10 L63.45,361.30 L64.91,361.56 L66.37,361.82 L67.82,362.01 L69.28,362.09 L70.74,362.09 L72.19,362.09 L73.65,362.09 L75.11,362.09 L76.56,362.09 L78.02,362.09 L79.48,362.09 L80.93,362.09 L82.39,362.05 L83.85,361.94 L85.30,361.76 L86.76,361.54 L88.22,361.29 L89.67,361.02 L91.13,360.65 L92.59,360.14 L94.04,359.54 L95.50,358.85 L96.96,358.02 L98.41,357.05 L99.87,355.86 L101.33,354.50 L102.78,352.98 L104.24,351.42 L105.70,349.89 L107.15,348.17 L108.61,346.25 L110.07,344.16 L111.52,341.87 L112.98,339.23 L114.44,336.13 L115.89,332.80 L117.35,329.34 L118.81,325.58 L120.26,321.49 L121.72,317.55 L123.18,314.02 L124.63,310.35 L126.09,306.52 L127.55,302.58 L129.00,298.97 L130.46,295.65 L131.92,291.37 L133.37,287.14 L134.83,283.64 L136.29,278.93 L137.74,273.73 L139.20,269.72 L140.66,265.41 L142.11,260.63 L143.57,256.55 L145.03,252.86 L146.48,249.12 L147.94,245.55 L149.40,242.30 L150.85,239.14 L152.31,236.31 L153.77,233.99 L155.22,232.17 L156.68,231.50 L158.14,231.81 L159.59,232.60 L161.05,233.65 L162.51,234.43 L163.96,235.56 L165.42,236.98 L166.88,238.04 L168.33,239.94 L169.79,243.09 L171.25,246.94 L172.70,250.23 L174.16,252.60 L175.62,256.23 L177.07,260.30 L178.53,263.36 L179.99,266.66 L181.44,270.21 L182.90,273.70 L184.36,277.22 L185.81,280.99 L187.27,284.87 L188.73,288.36 L190.18,292.06 L191.64,295.83 L193.10,298.79 L194.55,302.01 L196.01,305.61 L197.47,308.80 L198.92,311.80 L200.38,314.64 L201.84,317.60 L203.29,320.70 L204.75,323.39 L206.21,325.92 L207.66,328.47 L209.12,331.00 L210.58,333.55 L212.03,335.74 L213.49,337.80 L214.95,340.01 L216.40,342.02 L217.86,343.74 L219.32,345.40 L220.77,347.02 L222.23,348.55 L223.69,349.99 L225.14,351.35 L226.60,352.65 L228.06,353.81 L229.51,354.76 L230.97,355.54 L232.43,356.24 L233.88,356.86 L235.34,357.40 L236.80,357.88 L238.25,358.29 L239.71,358.65 L241.17,358.99 L242.62,359.30 L244.08,359.58 L245.54,359.83 L246.99,360.05 L248.45,360.24 L249.91,360.40 L251.36,360.54 L252.82,360.67 L254.28,360.80 L255.73,360.92 L257.19,361.03 L258.65,361.14 L260.10,361.24 L261.56,361.33 L263.02,361.41 L264.47,361.48 L265.93,361.53 L267.39,361.58 L268.84,361.61 L270.30,361.62" stroke="#9484cc"/>
<path d="M51.80,361.15 L53.26,361.04 L54.71,360.96 L56.17,360.92 L57.63,360.89 L59.08,360.89 L60.54,360.88 L62.00,360.96 L63.45,361.16 L64.91,361.42 L66.37,361.68 L67.82,361.88 L69.28,361.96 L70.74,361.96 L72.19,361.96 L73.65,361.96 L75.11,361.96 L76.56,361.96 L78.02,361.96 L79.48,361.96 L80.93,361.96 L82.39,361.92 L83.85,361.80 L85.30,361.63 L86.76,361.41 L88.22,361.16 L89.67,360.88 L91.13,360.50 L92.59,359.96 L94.04,359.34 L95.50,358.63 L96.96,357.78 L98.41,356.78 L99.87,355.53 L101.33,354.07 L102.78,352.49 L104.24,350.86 L105.70,349.23 L107.15,347.50 L108.61,345.63 L110.07,343.48 L111.52,341.04 L112.98,338.37 L114.44,335.49 L115.89,332.52 L117.35,329.26 L118.81,325.56 L120.26,321.51 L121.72,317.47 L123.18,313.73 L124.63,309.70 L126.09,305.26 L127.55,301.42 L129.00,297.92 L130.46,294.00 L131.92,290.36 L133.37,286.23 L134.83,281.44 L136.29,277.05 L137.74,272.97 L139.20,268.51 L140.66,263.80 L142.11,259.39 L143.57,254.86 L145.03,250.23 L146.48,246.29 L147.94,243.01 L149.40,239.91 L150.85,237.25 L152.31,234.89 L153.77,232.62 L155.22,230.62 L156.68,229.42 L158.14,229.55 L159.59,230.21 L161.05,230.80 L162.51,231.27 L163.96,232.08 L165.42,233.73 L166.88,235.42 L168.33,237.56 L169.79,240.29 L171.25,242.76 L172.70,245.62 L174.16,249.25 L175.62,252.89 L177.07,256.16 L178.53,259.52 L179.99,263.50 L181.44,267.96 L182.90,271.93 L184.36,275.15 L185.81,278.98 L187.27,282.86 L188.73,286.12 L190.18,290.01 L191.64,294.08 L193.10,297.31 L194.55,300.12 L196.01,303.39 L197.47,307.01 L198.92,310.01 L200.38,312.56 L201.84,315.56 L203.29,319.30 L204.75,322.74 L206.21,325.09 L207.66,327.14 L209.12,329.37 L210.58,331.79 L212.03,334.40 L213.49,336.77 L214.95,338.76 L216.40,340.70 L217.86,342.58 L219.32,344.23 L220.77,345.85 L222.23,347.51 L223.69,349.03 L225.14,350.46 L226.60,351.87 L228.06,353.15 L229.51,354.16 L230.97,354.97 L232.43,355.72 L233.88,356.39 L235.34,356.97 L236.80,357.48 L238.25,357.92 L239.71,358.30 L241.17,358.66 L242.62,359.00 L244.08,359.30 L245.54,359.57 L246.99,359.81 L248.45,360.01 L249.91,360.18 L251.36,360.32 L252.82,360.46 L254.28,360.59 L255.73,360.72 L257.19,360.84 L258.65,360.96 L260.10,361.06 L261.56,361.16 L263.02,361.24 L264.47,361.31 L265.93,361.37 L267.39,361.42 L268.84,361.45 L270.30,361.46" stroke="#8474c2"/>
<path d="M51.80,361.02 L53.26,360.91 L54.71,360.83 L56.17,360.78 L57.63,360.76 L59.08,360.75 L60.54,360.75 L62.00,360.83 L63.45,361.03 L64.91,361.29 L66.37,361.55 L67.82,361.75 L69.28,361.82 L70.74,361.82 L72.19,361.82 L73.65,361.82 L75.11,361.82 L76.56,361.82 L78.02,361.82 L79.48,361.82 L80.93,361.82 L82.39,361.78 L83.85,361.67 L85.30,361.50 L86.76,361.28 L88.22,361.03 L89.67,360.75 L91.13,360.35 L92.59,359.79 L94.04,359.14 L95.50,358.41 L96.96,357.53 L98.41,356.49 L99.87,355.20 L101.33,353.64 L102.78,351.91 L104.24,350.23 L105.70,348.60 L107.15,346.93 L108.61,345.08 L110.07,342.75 L111.52,340.08 L112.98,337.59 L114.44,335.02 L115.89,331.78 L117.35,328.11 L118.81,324.22 L120.26,320.31 L121.72,316.82 L123.18,312.94 L124.63,308.46 L126.09,304.30 L127.55,300.35 L129.00,296.17 L130.46,292.39 L131.92,288.46 L133.37,283.93 L134.83,280.05 L136.29,276.00 L137.74,270.64 L139.20,265.38 L140.66,260.90 L142.11,256.62 L143.57,253.00 L145.03,249.46 L146.48,244.94 L147.94,241.34 L149.40,238.75 L150.85,235.64 L152.31,232.17 L153.77,228.92 L155.22,226.82 L156.68,226.14 L158.14,226.67 L159.59,228.03 L161.05,228.98 L162.51,229.18 L163.96,229.70 L165.42,230.73 L166.88,232.15 L168.33,234.21 L169.79,236.81 L171.25,239.98 L172.70,243.74 L174.16,247.88 L175.62,251.65 L177.07,254.62 L178.53,257.25 L179.99,260.55 L181.44,264.48 L182.90,268.06 L184.36,271.22 L185.81,274.87 L187.27,279.08 L188.73,283.10 L190.18,287.40 L191.64,292.03 L193.10,295.62 L194.55,297.94 L196.01,300.12 L197.47,303.20 L198.92,306.98 L200.38,310.40 L201.84,313.92 L203.29,317.35 L204.75,320.00 L206.21,322.76 L207.66,325.43 L209.12,327.80 L210.58,330.41 L212.03,332.91 L213.49,335.27 L214.95,337.48 L216.40,339.38 L217.86,341.21 L219.32,343.13 L220.77,344.82 L222.23,346.28 L223.69,347.89 L225.14,349.56 L226.60,351.09 L228.06,352.44 L229.51,353.50 L230.97,354.38 L232.43,355.18 L233.88,355.88 L235.34,356.51 L236.80,357.06 L238.25,357.52 L239.71,357.94 L241.17,358.32 L242.62,358.68 L244.08,359.01 L245.54,359.30 L246.99,359.55 L248.45,359.77 L249.91,359.94 L251.36,360.09 L252.82,360.24 L254.28,360.39 L255.73,360.52 L257.19,360.65 L258.65,360.77 L260.10,360.88 L261.56,360.98 L263.02,361.07 L264.47,361.15 L265.93,361.21 L267.39,361.25 L268.84,361.28 L270.30,361.29" stroke="#58526a"/>
<path d="M51.80,361.62 L53.26,361.51 L54.71,361.43 L56.17,361.39 L57.63,361.36 L59.08,361.36 L60.54,361.35 L62.00,361.43 L63.45,361.63 L64.91,361.89 L66.37,362.15 L67.82,362.35 L69.28,362.43 L70.74,362.43 L72.19,362.43 L73.65,362.43 L75.11,362.43 L76.56,362.43 L78.02,362.43 L79.48,362.43 L80.93,362.43 L82.39,362.39 L83.85,362.27 L85.30,362.09 L86.76,361.87 L88.22,361.62 L89.67,361.35 L91.13,361.01 L92.59,360.55 L94.04,360.01 L95.50,359.36 L96.96,358.57 L98.41,357.67" stroke="#3c3080" stroke-width="1.3" stroke-linecap="round"/>
<path d="M321.88,177.01 L323.23,176.90 L324.58,176.73 L325.92,176.51 L327.27,176.24 L328.62,175.95 L329.97,175.63 L331.32,175.20 L332.67,174.69 L334.02,174.16 L335.37,173.66 L336.72,173.16 L338.07,172.65 L339.42,172.16 L340.77,171.66 L342.12,171.10 L343.47,170.45 L344.82,169.72 L346.16,168.86 L347.51,167.82 L348.86,166.59 L350.21,165.34 L351.56,163.91 L352.91,162.22 L354.26,160.57 L355.61,159.15 L356.96,157.83 L358.31,156.61 L359.66,155.33 L361.01,154.07 L362.36,152.95 L363.71,151.81 L365.06,150.53 L366.40,149.28 L367.75,148.25 L369.10,147.09 L370.45,145.51 L371.80,143.96 L373.15,142.76 L374.50,141.60 L375.85,140.37 L377.20,139.19 L378.55,137.63 L379.90,135.95 L381.25,134.88 L382.60,133.67 L383.95,131.83 L385.30,130.09 L386.64,128.71 L387.99,127.19 L389.34,125.42 L390.69,123.87 L392.04,122.57 L393.39,120.97 L394.74,119.45 L396.09,118.42 L397.44,117.06 L398.79,115.15 L400.14,113.37 L401.49,111.85 L402.84,110.29 L404.19,108.76 L405.54,107.40 L406.88,106.19 L408.23,105.23 L409.58,104.49 L410.93,103.60 L412.28,102.68 L413.63,101.85 L414.98,101.07 L416.33,100.47 L417.68,100.10 L419.03,99.77 L420.38,99.39 L421.73,99.31 L423.08,99.62 L424.43,100.04 L425.78,100.23 L427.12,100.19 L428.47,100.47 L429.82,101.11 L431.17,101.71 L432.52,102.36 L433.87,103.07 L435.22,104.01 L436.57,105.06 L437.92,106.30 L439.27,108.29 L440.62,110.98 L441.97,113.92 L443.32,116.84 L444.67,120.00 L446.02,123.97 L447.36,128.54 L448.71,132.96 L450.06,137.33 L451.41,140.93 L452.76,144.02 L454.11,146.85 L455.46,149.35 L456.81,151.64 L458.16,153.81 L459.51,155.95 L460.86,158.05 L462.21,160.13 L463.56,162.60 L464.91,165.24 L466.26,167.59 L467.60,169.66 L468.95,171.47 L470.30,173.09 L471.65,174.46 L473.00,175.64 L474.35,176.67 L475.70,177.57 L477.05,178.37 L478.40,179.08 L479.75,179.69 L481.10,180.24 L482.45,180.73 L483.80,181.16 L485.15,181.53 L486.50,181.87 L487.84,182.19 L489.19,182.47 L490.54,182.71 L491.89,182.91 L493.24,183.08 L494.59,183.25 L495.94,183.39 L497.29,183.51 L498.64,183.61 L499.99,183.68 L501.34,183.73 L502.69,183.78 L504.04,183.83 L505.39,183.87 L506.74,183.90 L508.08,183.93 L509.43,183.95 L510.78,183.96 L512.13,183.97 L513.48,183.99 L514.83,184.00 L516.18,184.01 L517.53,184.02 L518.88,184.03 L520.23,184.04 L521.58,184.05 L522.93,184.06 L524.28,184.06 L525.63,184.07 L526.98,184.08 L528.32,184.08 L529.67,184.09 L531.02,184.09 L532.37,184.09 L533.72,184.10 L535.07,184.10 L536.42,184.10" stroke="#9090d8"/>
<path d="M321.88,176.76 L323.23,176.63 L324.58,176.45 L325.92,176.22 L327.27,175.95 L328.62,175.65 L329.97,175.33 L331.32,174.92 L332.67,174.43 L334.02,173.90 L335.37,173.37 L336.72,172.82 L338.07,172.27 L339.42,171.73 L340.77,171.17 L342.12,170.60 L343.47,169.99 L344.82,169.27 L346.16,168.33 L347.51,167.14 L348.86,165.84 L350.21,164.54 L351.56,162.98 L352.91,161.18 L354.26,159.46 L355.61,157.95 L356.96,156.58 L358.31,155.37 L359.66,154.15 L361.01,152.95 L362.36,151.87 L363.71,150.67 L365.06,149.41 L366.40,148.15 L367.75,146.90 L369.10,145.64 L370.45,144.21 L371.80,142.61 L373.15,141.09 L374.50,139.79 L375.85,138.54 L377.20,137.06 L378.55,135.41 L379.90,133.94 L381.25,132.70 L382.60,131.27 L383.95,129.41 L385.30,127.62 L386.64,126.11 L387.99,124.40 L389.34,122.48 L390.69,120.72 L392.04,119.38 L393.39,118.15 L394.74,116.50 L396.09,114.79 L397.44,113.31 L398.79,111.77 L400.14,110.08 L401.49,108.34 L402.84,106.63 L404.19,105.21 L405.54,104.07 L406.88,102.92 L408.23,101.59 L409.58,100.29 L410.93,99.35 L412.28,98.52 L413.63,97.50 L414.98,96.72 L416.33,96.31 L417.68,96.10 L419.03,95.81 L420.38,95.22 L421.73,95.03 L423.08,95.41 L424.43,95.68 L425.78,95.80 L427.12,96.02 L428.47,96.50 L429.82,97.30 L431.17,97.97 L432.52,98.59 L433.87,99.49 L435.22,100.60 L436.57,101.93 L437.92,103.91 L439.27,106.19 L440.62,108.17 L441.97,110.51 L443.32,113.64 L444.67,117.10 L446.02,120.79 L447.36,124.92 L448.71,129.59 L450.06,134.50 L451.41,138.41 L452.76,141.57 L454.11,144.45 L455.46,147.25 L456.81,149.73 L458.16,151.91 L459.51,154.18 L460.86,156.47 L462.21,158.84 L463.56,161.48 L464.91,164.08 L466.26,166.40 L467.60,168.50 L468.95,170.41 L470.30,172.18 L471.65,173.64 L473.00,174.88 L474.35,175.97 L475.70,176.94 L477.05,177.80 L478.40,178.56 L479.75,179.23 L481.10,179.81 L482.45,180.33 L483.80,180.80 L485.15,181.20 L486.50,181.56 L487.84,181.90 L489.19,182.20 L490.54,182.47 L491.89,182.69 L493.24,182.88 L494.59,183.07 L495.94,183.23 L497.29,183.37 L498.64,183.49 L499.99,183.57 L501.34,183.64 L502.69,183.71 L504.04,183.76 L505.39,183.81 L506.74,183.85 L508.08,183.89 L509.43,183.92 L510.78,183.94 L512.13,183.96 L513.48,183.97 L514.83,183.99 L516.18,184.00 L517.53,184.01 L518.88,184.02 L520.23,184.03 L521.58,184.04 L522.93,184.05 L524.28,184.06 L525.63,184.07 L526.98,184.07 L528.32,184.08 L529.67,184.09 L531.02,184.09 L532.37,184.09 L533.72,184.10 L535.07,184.10 L536.42,184.10" stroke="#c6b99a"/>
<path d="M321.88,176.53 L323.23,176.39 L324.58,176.18 L325.92,175.94 L327.27,175.67 L328.62,175.37 L329.97,175.04 L331.32,174.62 L332.67,174.12 L334.02,173.58 L335.37,173.06 L336.72,172.57 L338.07,172.07 L339.42,171.51 L340.77,170.89 L342.12,170.23 L343.47,169.54 L344.82,168.74 L346.16,167.77 L347.51,166.65 L348.86,165.39 L350.21,163.98 L351.56,162.37 L352.91,160.65 L354.26,158.99 L355.61,157.53 L356.96,156.10 L358.31,154.74 L359.66,153.30 L361.01,151.88 L362.36,150.74 L363.71,149.64 L365.06,148.46 L366.40,147.04 L367.75,145.55 L369.10,144.24 L370.45,142.86 L371.80,141.29 L373.15,139.52 L374.50,138.01 L375.85,136.89 L377.20,135.43 L378.55,133.79 L379.90,132.32 L381.25,130.74 L382.60,129.13 L383.95,127.53 L385.30,125.85 L386.64,124.16 L387.99,122.33 L389.34,120.21 L390.69,118.03 L392.04,116.35 L393.39,115.01 L394.74,113.43 L396.09,111.82 L397.44,110.27 L398.79,108.60 L400.14,106.60 L401.49,104.70 L402.84,103.47 L404.19,101.98 L405.54,100.03 L406.88,98.65 L408.23,97.54 L409.58,96.47 L410.93,95.63 L412.28,94.93 L413.63,94.37 L414.98,93.56 L416.33,92.49 L417.68,91.86 L419.03,91.67 L420.38,91.41 L421.73,91.15 L423.08,91.25 L424.43,91.64 L425.78,92.15 L427.12,92.68 L428.47,93.15 L429.82,93.71 L431.17,94.46 L432.52,95.22 L433.87,96.11 L435.22,97.42 L436.57,98.79 L437.92,100.44 L439.27,102.57 L440.62,104.83 L441.97,107.36 L443.32,110.47 L444.67,114.15 L446.02,118.39 L447.36,122.93 L448.71,127.48 L450.06,131.86 L451.41,135.43 L452.76,138.76 L454.11,141.89 L455.46,144.94 L456.81,147.89 L458.16,150.54 L459.51,152.98 L460.86,155.35 L462.21,157.68 L463.56,160.21 L464.91,162.96 L466.26,165.46 L467.60,167.61 L468.95,169.52 L470.30,171.35 L471.65,172.87 L473.00,174.13 L474.35,175.30 L475.70,176.36 L477.05,177.27 L478.40,178.09 L479.75,178.80 L481.10,179.42 L482.45,179.97 L483.80,180.47 L485.15,180.89 L486.50,181.28 L487.84,181.63 L489.19,181.96 L490.54,182.24 L491.89,182.48 L493.24,182.70 L494.59,182.90 L495.94,183.09 L497.29,183.24 L498.64,183.37 L499.99,183.47 L501.34,183.56 L502.69,183.63 L504.04,183.70 L505.39,183.76 L506.74,183.81 L508.08,183.85 L509.43,183.89 L510.78,183.91 L512.13,183.94 L513.48,183.96 L514.83,183.97 L516.18,183.99 L517.53,184.00 L518.88,184.02 L520.23,184.03 L521.58,184.04 L522.93,184.05 L524.28,184.06 L525.63,184.06 L526.98,184.07 L528.32,184.08 L529.67,184.08 L531.02,184.09 L532.37,184.09 L533.72,184.10 L535.07,184.10 L536.42,184.10" stroke="#aaa2aa"/>
<path d="M321.88,176.30 L323.23,176.14 L324.58,175.93 L325.92,175.69 L327.27,175.40 L328.62,175.09 L329.97,174.75 L331.32,174.34 L332.67,173.86 L334.02,173.35 L335.37,172.81 L336.72,172.28 L338.07,171.73 L339.42,171.12 L340.77,170.48 L342.12,169.86 L343.47,169.15 L344.82,168.36 L346.16,167.35 L347.51,166.07 L348.86,164.68 L350.21,163.22 L351.56,161.54 L352.91,159.74 L354.26,158.09 L355.61,156.62 L356.96,155.32 L358.31,154.12 L359.66,152.70 L361.01,151.02 L362.36,149.67 L363.71,148.59 L365.06,147.36 L366.40,146.05 L367.75,144.73 L369.10,143.28 L370.45,141.61 L371.80,139.88 L373.15,138.47 L374.50,137.05 L375.85,135.19 L377.20,133.57 L378.55,132.29 L379.90,130.87 L381.25,129.24 L382.60,127.58 L383.95,125.60 L385.30,123.27 L386.64,121.24 L387.99,119.52 L389.34,117.78 L390.69,115.75 L392.04,113.57 L393.39,111.73 L394.74,110.22 L396.09,108.70 L397.44,107.01 L398.79,105.24 L400.14,103.31 L401.49,101.23 L402.84,99.42 L404.19,98.13 L405.54,96.70 L406.88,94.98 L408.23,93.70 L409.58,92.78 L410.93,91.56 L412.28,90.49 L413.63,89.84 L414.98,89.13 L416.33,88.41 L417.68,87.90 L419.03,87.59 L420.38,87.33 L421.73,87.16 L423.08,87.29 L424.43,87.76 L425.78,88.21 L427.12,88.48 L428.47,88.89 L429.82,89.64 L431.17,90.45 L432.52,91.06 L433.87,92.13 L435.22,93.86 L436.57,95.47 L437.92,97.51 L439.27,100.09 L440.62,102.58 L441.97,105.26 L443.32,108.38 L444.67,111.83 L446.02,115.79 L447.36,120.20 L448.71,124.60 L450.06,129.02 L451.41,132.98 L452.76,136.48 L454.11,139.80 L455.46,143.07 L456.81,145.94 L458.16,148.55 L459.51,151.12 L460.86,153.78 L462.21,156.50 L463.56,159.24 L464.91,161.92 L466.26,164.35 L467.60,166.55 L468.95,168.60 L470.30,170.51 L471.65,172.07 L473.00,173.39 L474.35,174.62 L475.70,175.74 L477.05,176.72 L478.40,177.59 L479.75,178.35 L481.10,179.01 L482.45,179.60 L483.80,180.12 L485.15,180.57 L486.50,180.98 L487.84,181.36 L489.19,181.70 L490.54,182.00 L491.89,182.27 L493.24,182.51 L494.59,182.73 L495.94,182.93 L497.29,183.11 L498.64,183.26 L499.99,183.37 L501.34,183.47 L502.69,183.56 L504.04,183.64 L505.39,183.71 L506.74,183.76 L508.08,183.81 L509.43,183.86 L510.78,183.89 L512.13,183.92 L513.48,183.94 L514.83,183.96 L516.18,183.98 L517.53,183.99 L518.88,184.01 L520.23,184.02 L521.58,184.03 L522.93,184.04 L524.28,184.05 L525.63,184.06 L526.98,184.07 L528.32,184.08 L529.67,184.08 L531.02,184.09 L532.37,184.09 L533.72,184.10 L535.07,184.10 L536.42,184.10" stroke="#c2ac96"/>
<path d="M321.88,176.02 L323.23,175.84 L324.58,175.61 L325.92,175.35 L327.27,175.07 L328.62,174.76 L329.97,174.41 L331.32,174.00 L332.67,173.52 L334.02,173.00 L335.37,172.49 L336.72,171.99 L338.07,171.46 L339.42,170.85 L340.77,170.14 L342.12,169.41 L343.47,168.70 L344.82,167.89 L346.16,166.80 L347.51,165.51 L348.86,164.15 L350.21,162.69 L351.56,160.91 L352.91,158.99 L354.26,157.32 L355.61,155.92 L356.96,154.36 L358.31,152.64 L359.66,151.05 L361.01,149.78 L362.36,148.61 L363.71,147.21 L365.06,145.85 L366.40,144.50 L367.75,143.02 L369.10,141.35 L370.45,139.77 L371.80,138.38 L373.15,136.73 L374.50,134.99 L375.85,133.29 L377.20,131.73 L378.55,130.32 L379.90,128.68 L381.25,127.07 L382.60,125.37 L383.95,123.18 L385.30,120.85 L386.64,118.86 L387.99,117.06 L389.34,114.85 L390.69,112.57 L392.04,110.69 L393.39,108.90 L394.74,106.92 L396.09,105.07 L397.44,103.37 L398.79,101.34 L400.14,99.18 L401.49,97.20 L402.84,95.20 L404.19,93.43 L405.54,92.11 L406.88,90.93 L408.23,89.89 L409.58,88.78 L410.93,87.49 L412.28,86.32 L413.63,85.23 L414.98,84.44 L416.33,83.98 L417.68,83.53 L419.03,83.09 L420.38,82.84 L421.73,82.86 L423.08,82.80 L424.43,83.14 L425.78,84.01 L427.12,84.48 L428.47,84.76 L429.82,85.44 L431.17,86.45 L432.52,87.50 L433.87,88.49 L435.22,89.96 L436.57,91.74 L437.92,93.74 L439.27,96.12 L440.62,98.74 L441.97,101.68 L443.32,105.04 L444.67,108.56 L446.02,112.24 L447.36,116.70 L448.71,121.60 L450.06,126.19 L451.41,130.20 L452.76,133.98 L454.11,137.56 L455.46,140.88 L456.81,143.76 L458.16,146.63 L459.51,149.42 L460.86,152.14 L462.21,155.03 L463.56,157.94 L464.91,160.63 L466.26,163.16 L467.60,165.53 L468.95,167.64 L470.30,169.53 L471.65,171.16 L473.00,172.59 L474.35,173.88 L475.70,175.05 L477.05,176.10 L478.40,177.03 L479.75,177.84 L481.10,178.54 L482.45,179.17 L483.80,179.73 L485.15,180.21 L486.50,180.64 L487.84,181.05 L489.19,181.41 L490.54,181.74 L491.89,182.02 L493.24,182.29 L494.59,182.54 L495.94,182.76 L497.29,182.96 L498.64,183.12 L499.99,183.26 L501.34,183.37 L502.69,183.48 L504.04,183.57 L505.39,183.65 L506.74,183.71 L508.08,183.77 L509.43,183.82 L510.78,183.86 L512.13,183.90 L513.48,183.92 L514.83,183.95 L516.18,183.97 L517.53,183.98 L518.88,184.00 L520.23,184.02 L521.58,184.03 L522.93,184.04 L524.28,184.05 L525.63,184.06 L526.98,184.07 L528.32,184.07 L529.67,184.08 L531.02,184.09 L532.37,184.09 L533.72,184.10 L535.07,184.10 L536.42,184.10" stroke="#a08cd2"/>
<path d="M321.88,175.72 L323.23,175.52 L324.58,175.26 L325.92,174.98 L327.27,174.67 L328.62,174.35 L329.97,174.00 L331.32,173.60 L332.67,173.15 L334.02,172.66 L335.37,172.15 L336.72,171.63 L338.07,171.06 L339.42,170.43 L340.77,169.77 L342.12,169.05 L343.47,168.19 L344.82,167.21 L346.16,166.11 L347.51,164.83 L348.86,163.43 L350.21,161.93 L351.56,160.19 L352.91,158.20 L354.26,156.26 L355.61,154.74 L356.96,153.33 L358.31,151.72 L359.66,150.20 L361.01,148.78 L362.36,147.38 L363.71,145.95 L365.06,144.54 L366.40,143.20 L367.75,141.66 L369.10,139.87 L370.45,138.07 L371.80,136.27 L373.15,134.40 L374.50,132.92 L375.85,131.59 L377.20,129.75 L378.55,127.94 L379.90,126.61 L381.25,125.17 L382.60,123.18 L383.95,120.83 L385.30,118.25 L386.64,115.68 L387.99,113.50 L389.34,111.26 L390.69,108.75 L392.04,106.38 L393.39,104.35 L394.74,102.52 L396.09,100.67 L397.44,98.74 L398.79,96.63 L400.14,94.39 L401.49,92.43 L402.84,90.88 L404.19,89.44 L405.54,87.73 L406.88,85.89 L408.23,84.49 L409.58,83.39 L410.93,82.19 L412.28,81.29 L413.63,80.37 L414.98,79.38 L416.33,78.76 L417.68,78.09 L419.03,77.41 L420.38,77.25 L421.73,77.50 L423.08,77.79 L424.43,78.06 L425.78,78.42 L427.12,78.86 L428.47,79.50 L429.82,80.37 L431.17,81.44 L432.52,82.76 L433.87,84.36 L435.22,86.16 L436.57,88.09 L437.92,90.36 L439.27,92.61 L440.62,94.85 L441.97,97.73 L443.32,101.06 L444.67,104.65 L446.02,108.83 L447.36,113.31 L448.71,117.92 L450.06,122.79 L451.41,127.03 L452.76,130.75 L454.11,134.06 L455.46,137.16 L456.81,140.46 L458.16,144.04 L459.51,147.66 L460.86,150.75 L462.21,153.50 L463.56,156.44 L464.91,159.31 L466.26,161.88 L467.60,164.21 L468.95,166.39 L470.30,168.34 L471.65,170.00 L473.00,171.56 L474.35,173.01 L475.70,174.28 L477.05,175.39 L478.40,176.39 L479.75,177.26 L481.10,178.01 L482.45,178.68 L483.80,179.28 L485.15,179.79 L486.50,180.26 L487.84,180.68 L489.19,181.08 L490.54,181.43 L491.89,181.74 L493.24,182.04 L494.59,182.31 L495.94,182.56 L497.29,182.79 L498.64,182.97 L499.99,183.13 L501.34,183.26 L502.69,183.38 L504.04,183.49 L505.39,183.58 L506.74,183.65 L508.08,183.72 L509.43,183.78 L510.78,183.83 L512.13,183.87 L513.48,183.90 L514.83,183.93 L516.18,183.95 L517.53,183.97 L518.88,183.99 L520.23,184.01 L521.58,184.02 L522.93,184.04 L524.28,184.05 L525.63,184.06 L526.98,184.06 L528.32,184.07 L529.67,184.08 L531.02,184.09 L532.37,184.09 L533.72,184.09 L535.07,184.10 L536.42,184.10" stroke="#c0b890"/>
<path d="M321.88,175.34 L323.23,175.11 L324.58,174.85 L325.92,174.54 L327.27,174.22 L328.62,173.89 L329.97,173.56 L331.32,173.17 L332.67,172.72 L334.02,172.23 L335.37,171.71 L336.72,171.17 L338.07,170.59 L339.42,169.90 L340.77,169.15 L342.12,168.41 L343.47,167.57 L344.82,166.54 L346.16,165.33 L347.51,163.96 L348.86,162.48 L350.21,160.89 L351.56,159.03 L352.91,157.08 L354.26,155.30 L355.61,153.53 L356.96,151.89 L358.31,150.23 L359.66,148.51 L361.01,147.05 L362.36,145.60 L363.71,144.02 L365.06,142.51 L366.40,140.99 L367.75,139.17 L369.10,137.28 L370.45,135.74 L371.80,134.24 L373.15,132.47 L374.50,130.57 L375.85,128.87 L377.20,127.28 L378.55,125.53 L379.90,123.64 L381.25,121.72 L382.60,119.72 L383.95,117.49 L385.30,115.11 L386.64,112.57 L387.99,110.07 L389.34,107.37 L390.69,104.59 L392.04,102.20 L393.39,100.04 L394.74,97.87 L396.09,95.70 L397.44,93.77 L398.79,91.85 L400.14,89.57 L401.49,87.27 L402.84,85.08 L404.19,83.21 L405.54,81.80 L406.88,80.32 L408.23,78.50 L409.58,77.25 L410.93,76.29 L412.28,74.94 L413.63,73.91 L414.98,73.31 L416.33,72.56 L417.68,71.97 L419.03,71.59 L420.38,71.29 L421.73,71.22 L423.08,71.33 L424.43,71.63 L425.78,72.05 L427.12,72.73 L428.47,73.69 L429.82,74.78 L431.17,76.03 L432.52,77.37 L433.87,78.99 L435.22,80.79 L436.57,82.76 L437.92,85.21 L439.27,87.93 L440.62,90.83 L441.97,93.68 L443.32,96.53 L444.67,100.04 L446.02,104.36 L447.36,108.91 L448.71,113.46 L450.06,118.15 L451.41,122.64 L452.76,126.75 L454.11,130.62 L455.46,134.58 L456.81,138.19 L458.16,141.58 L459.51,144.94 L460.86,148.41 L462.21,151.77 L463.56,154.88 L464.91,157.78 L466.26,160.50 L467.60,162.86 L468.95,164.96 L470.30,167.02 L471.65,168.84 L473.00,170.46 L474.35,171.99 L475.70,173.37 L477.05,174.56 L478.40,175.63 L479.75,176.57 L481.10,177.39 L482.45,178.11 L483.80,178.75 L485.15,179.30 L486.50,179.80 L487.84,180.26 L489.19,180.68 L490.54,181.07 L491.89,181.41 L493.24,181.74 L494.59,182.05 L495.94,182.33 L497.29,182.58 L498.64,182.79 L499.99,182.97 L501.34,183.13 L502.69,183.27 L504.04,183.39 L505.39,183.49 L506.74,183.59 L508.08,183.67 L509.43,183.74 L510.78,183.80 L512.13,183.84 L513.48,183.88 L514.83,183.91 L516.18,183.94 L517.53,183.96 L518.88,183.98 L520.23,184.00 L521.58,184.02 L522.93,184.03 L524.28,184.04 L525.63,184.05 L526.98,184.06 L528.32,184.07 L529.67,184.08 L531.02,184.08 L532.37,184.09 L533.72,184.09 L535.07,184.10 L536.42,184.10" stroke="#9890dc"/>
<path d="M321.88,175.00 L323.23,174.75 L324.58,174.48 L325.92,174.19 L327.27,173.86 L328.62,173.48 L329.97,173.11 L331.32,172.74 L332.67,172.31 L334.02,171.81 L335.37,171.30 L336.72,170.78 L338.07,170.17 L339.42,169.49 L340.77,168.72 L342.12,167.90 L343.47,166.97 L344.82,165.89 L346.16,164.68 L347.51,163.26 L348.86,161.62 L350.21,159.99 L351.56,158.15 L352.91,156.15 L354.26,154.30 L355.61,152.35 L356.96,150.45 L358.31,148.84 L359.66,147.42 L361.01,145.92 L362.36,144.08 L363.71,142.39 L365.06,140.76 L366.40,138.99 L367.75,137.69 L369.10,136.43 L370.45,134.64 L371.80,132.51 L373.15,130.40 L374.50,128.50 L375.85,126.76 L377.20,124.93 L378.55,123.07 L379.90,121.47 L381.25,119.52 L382.60,117.01 L383.95,114.47 L385.30,111.79 L386.64,109.04 L387.99,106.46 L389.34,103.56 L390.69,100.57 L392.04,97.91 L393.39,95.49 L394.74,93.34 L396.09,91.21 L397.44,88.94 L398.79,86.80 L400.14,84.56 L401.49,82.22 L402.84,80.21 L404.19,78.55 L405.54,76.73 L406.88,74.79 L408.23,73.02 L409.58,71.54 L410.93,70.33 L412.28,69.18 L413.63,67.91 L414.98,67.12 L416.33,66.83 L417.68,66.17 L419.03,65.42 L420.38,65.02 L421.73,64.97 L423.08,65.52 L424.43,66.15 L425.78,66.86 L427.12,67.87 L428.47,68.42 L429.82,69.03 L431.17,70.44 L432.52,72.16 L433.87,73.95 L435.22,75.94 L436.57,78.00 L437.92,80.50 L439.27,83.78 L440.62,86.88 L441.97,89.35 L443.32,92.33 L444.67,96.33 L446.02,100.89 L447.36,105.44 L448.71,110.01 L450.06,114.76 L451.41,119.25 L452.76,123.52 L454.11,127.38 L455.46,131.24 L456.81,135.34 L458.16,139.25 L459.51,142.76 L460.86,146.32 L462.21,149.84 L463.56,153.01 L464.91,155.91 L466.26,158.74 L467.60,161.28 L468.95,163.56 L470.30,165.77 L471.65,167.76 L473.00,169.46 L474.35,171.00 L475.70,172.48 L477.05,173.78 L478.40,174.92 L479.75,175.94 L481.10,176.80 L482.45,177.57 L483.80,178.25 L485.15,178.84 L486.50,179.38 L487.84,179.87 L489.19,180.32 L490.54,180.73 L491.89,181.11 L493.24,181.46 L494.59,181.80 L495.94,182.12 L497.29,182.39 L498.64,182.63 L499.99,182.83 L501.34,183.00 L502.69,183.16 L504.04,183.30 L505.39,183.42 L506.74,183.52 L508.08,183.61 L509.43,183.69 L510.78,183.76 L512.13,183.82 L513.48,183.86 L514.83,183.89 L516.18,183.92 L517.53,183.95 L518.88,183.97 L520.23,183.99 L521.58,184.01 L522.93,184.02 L524.28,184.04 L525.63,184.05 L526.98,184.06 L528.32,184.07 L529.67,184.07 L531.02,184.08 L532.37,184.09 L533.72,184.09 L535.07,184.10 L536.42,184.10" stroke="#a89ae2"/>
<path d="M321.88,174.59 L323.23,174.30 L324.58,173.98 L325.92,173.65 L327.27,173.35 L328.62,173.00 L329.97,172.60 L331.32,172.21 L332.67,171.81 L334.02,171.35 L335.37,170.82 L336.72,170.24 L338.07,169.59 L339.42,168.83 L340.77,168.05 L342.12,167.23 L343.47,166.24 L344.82,165.09 L346.16,163.75 L347.51,162.30 L348.86,160.71 L350.21,158.82 L351.56,156.72 L352.91,154.70 L354.26,152.84 L355.61,150.92 L356.96,148.99 L358.31,147.17 L359.66,145.46 L361.01,143.61 L362.36,141.79 L363.71,140.31 L365.06,138.82 L366.40,137.03 L367.75,135.06 L369.10,133.26 L370.45,131.73 L371.80,130.08 L373.15,128.03 L374.50,125.72 L375.85,123.56 L377.20,121.74 L378.55,120.03 L379.90,118.09 L381.25,115.98 L382.60,113.60 L383.95,110.85 L385.30,107.90 L386.64,104.88 L387.99,101.90 L389.34,98.70 L390.69,95.62 L392.04,92.90 L393.39,90.29 L394.74,87.80 L396.09,85.47 L397.44,82.93 L398.79,80.46 L400.14,78.26 L401.49,76.15 L402.84,74.22 L404.19,72.13 L405.54,69.87 L406.88,67.84 L408.23,66.05 L409.58,64.66 L410.93,63.50 L412.28,62.26 L413.63,61.05 L414.98,60.35 L416.33,59.89 L417.68,59.24 L419.03,58.50 L420.38,57.92 L421.73,57.80 L423.08,58.17 L424.43,58.85 L425.78,59.55 L427.12,60.31 L428.47,61.36 L429.82,62.66 L431.17,64.22 L432.52,65.90 L433.87,67.80 L435.22,70.05 L436.57,72.46 L437.92,75.24 L439.27,78.15 L440.62,80.96 L441.97,83.97 L443.32,87.31 L444.67,91.12 L446.02,95.49 L447.36,100.39 L448.71,105.53 L450.06,110.45 L451.41,114.79 L452.76,118.85 L454.11,123.02 L455.46,127.59 L456.81,131.78 L458.16,135.83 L459.51,140.03 L460.86,144.03 L462.21,147.68 L463.56,151.04 L464.91,154.13 L466.26,156.91 L467.60,159.57 L468.95,162.10 L470.30,164.29 L471.65,166.25 L473.00,168.10 L474.35,169.82 L475.70,171.42 L477.05,172.81 L478.40,174.04 L479.75,175.12 L481.10,176.06 L482.45,176.90 L483.80,177.63 L485.15,178.27 L486.50,178.84 L487.84,179.37 L489.19,179.86 L490.54,180.31 L491.89,180.72 L493.24,181.12 L494.59,181.50 L495.94,181.85 L497.29,182.16 L498.64,182.42 L499.99,182.64 L501.34,182.85 L502.69,183.03 L504.04,183.19 L505.39,183.32 L506.74,183.44 L508.08,183.55 L509.43,183.64 L510.78,183.72 L512.13,183.78 L513.48,183.83 L514.83,183.87 L516.18,183.90 L517.53,183.93 L518.88,183.96 L520.23,183.98 L521.58,184.00 L522.93,184.02 L524.28,184.03 L525.63,184.04 L526.98,184.05 L528.32,184.06 L529.67,184.07 L531.02,184.08 L532.37,184.09 L533.72,184.09 L535.07,184.10 L536.42,184.10" stroke="#9a84d8"/>
<path d="M321.88,174.07 L323.23,173.74 L324.58,173.38 L325.92,173.04 L327.27,172.68 L328.62,172.29 L329.97,171.93 L331.32,171.60 L332.67,171.23 L334.02,170.80 L335.37,170.26 L336.72,169.61 L338.07,168.92 L339.42,168.19 L340.77,167.31 L342.12,166.27 L343.47,165.22 L344.82,164.09 L346.16,162.72 L347.51,161.17 L348.86,159.36 L350.21,157.34 L351.56,155.25 L352.91,153.08 L354.26,150.96 L355.61,149.01 L356.96,147.20 L358.31,145.21 L359.66,143.18 L361.01,141.49 L362.36,139.73 L363.71,137.84 L365.06,136.07 L366.40,134.10 L367.75,131.96 L369.10,130.28 L370.45,128.78 L371.80,126.90 L373.15,124.95 L374.50,122.80 L375.85,120.24 L377.20,117.88 L378.55,115.89 L379.90,113.96 L381.25,111.98 L382.60,109.51 L383.95,106.50 L385.30,103.17 L386.64,99.67 L387.99,96.41 L389.34,93.18 L390.69,89.80 L392.04,86.40 L393.39,83.40 L394.74,80.87 L396.09,78.58 L397.44,75.96 L398.79,73.09 L400.14,70.60 L401.49,68.35 L402.84,65.98 L404.19,63.76 L405.54,61.75 L406.88,59.66 L408.23,57.58 L409.58,55.85 L410.93,54.34 L412.28,53.09 L413.63,52.16 L414.98,51.42 L416.33,50.70 L417.68,49.94 L419.03,49.24 L420.38,48.72 L421.73,48.52 L423.08,48.92 L424.43,49.79 L425.78,50.82 L427.12,51.93 L428.47,53.14 L429.82,54.49 L431.17,56.04 L432.52,57.93 L433.87,60.06 L435.22,62.64 L436.57,65.60 L437.92,68.47 L439.27,71.29 L440.62,74.41 L441.97,77.86 L443.32,81.47 L444.67,85.12 L446.02,89.15 L447.36,93.95 L448.71,99.18 L450.06,104.26 L451.41,108.79 L452.76,113.27 L454.11,118.06 L455.46,123.01 L456.81,127.72 L458.16,132.49 L459.51,136.98 L460.86,140.95 L462.21,144.76 L463.56,148.33 L464.91,151.57 L466.26,154.60 L467.60,157.38 L468.95,159.96 L470.30,162.33 L471.65,164.43 L473.00,166.36 L474.35,168.25 L475.70,170.06 L477.05,171.59 L478.40,172.92 L479.75,174.11 L481.10,175.15 L482.45,176.07 L483.80,176.87 L485.15,177.56 L486.50,178.18 L487.84,178.76 L489.19,179.29 L490.54,179.78 L491.89,180.24 L493.24,180.69 L494.59,181.12 L495.94,181.51 L497.29,181.86 L498.64,182.16 L499.99,182.42 L501.34,182.66 L502.69,182.87 L504.04,183.05 L505.39,183.20 L506.74,183.34 L508.08,183.46 L509.43,183.57 L510.78,183.67 L512.13,183.74 L513.48,183.80 L514.83,183.84 L516.18,183.88 L517.53,183.91 L518.88,183.94 L520.23,183.97 L521.58,183.99 L522.93,184.01 L524.28,184.02 L525.63,184.04 L526.98,184.05 L528.32,184.06 L529.67,184.07 L531.02,184.08 L532.37,184.09 L533.72,184.09 L535.07,184.10 L536.42,184.10" stroke="#bcae8c"/>
<path d="M321.88,173.46 L323.23,173.10 L324.58,172.71 L325.92,172.31 L327.27,171.95 L328.62,171.58 L329.97,171.15 L331.32,170.76 L332.67,170.43 L334.02,170.04 L335.37,169.53 L336.72,168.90 L338.07,168.18 L339.42,167.39 L340.77,166.51 L342.12,165.49 L343.47,164.25 L344.82,162.86 L346.16,161.35 L347.51,159.67 L348.86,157.74 L350.21,155.64 L351.56,153.47 L352.91,151.28 L354.26,149.21 L355.61,147.11 L356.96,144.88 L358.31,142.70 L359.66,140.90 L361.01,139.09 L362.36,136.91 L363.71,134.86 L365.06,133.20 L366.40,131.41 L367.75,129.15 L369.10,127.01 L370.45,125.11 L371.80,122.92 L373.15,120.55 L374.50,118.29 L375.85,116.13 L377.20,113.76 L378.55,111.31 L379.90,109.40 L381.25,107.37 L382.60,104.24 L383.95,100.77 L385.30,97.43 L386.64,93.84 L387.99,90.23 L389.34,86.25 L390.69,82.25 L392.04,78.57 L393.39,75.20 L394.74,72.18 L396.09,69.39 L397.44,66.89 L398.79,64.52 L400.14,61.92 L401.49,59.43 L402.84,56.96 L404.19,54.52 L405.54,52.24 L406.88,50.04 L408.23,48.12 L409.58,46.25 L410.93,44.50 L412.28,43.15 L413.63,42.00 L414.98,41.05 L416.33,40.21 L417.68,39.55 L419.03,39.04 L420.38,38.56 L421.73,38.42 L423.08,38.89 L424.43,39.62 L425.78,40.35 L427.12,41.22 L428.47,42.57 L429.82,44.23 L431.17,45.97 L432.52,48.14 L433.87,50.56 L435.22,53.40 L436.57,56.86 L437.92,60.23 L439.27,63.33 L440.62,66.59 L441.97,70.03 L443.32,73.72 L444.67,77.67 L446.02,81.96 L447.36,86.80 L448.71,92.13 L450.06,97.30 L451.41,101.71 L452.76,106.02 L454.11,110.93 L455.46,116.42 L456.81,121.97 L458.16,127.50 L459.51,132.54 L460.86,137.18 L462.21,141.56 L463.56,145.29 L464.91,148.65 L466.26,151.95 L467.60,154.94 L468.95,157.65 L470.30,160.10 L471.65,162.34 L473.00,164.45 L474.35,166.49 L475.70,168.48 L477.05,170.17 L478.40,171.67 L479.75,172.99 L481.10,174.12 L482.45,175.10 L483.80,175.96 L485.15,176.72 L486.50,177.41 L487.84,178.04 L489.19,178.62 L490.54,179.16 L491.89,179.68 L493.24,180.19 L494.59,180.67 L495.94,181.12 L497.29,181.51 L498.64,181.85 L499.99,182.15 L501.34,182.43 L502.69,182.68 L504.04,182.89 L505.39,183.07 L506.74,183.22 L508.08,183.37 L509.43,183.49 L510.78,183.61 L512.13,183.69 L513.48,183.76 L514.83,183.80 L516.18,183.85 L517.53,183.89 L518.88,183.92 L520.23,183.95 L521.58,183.98 L522.93,184.00 L524.28,184.01 L525.63,184.03 L526.98,184.04 L528.32,184.05 L529.67,184.07 L531.02,184.08 L532.37,184.08 L533.72,184.09 L535.07,184.10 L536.42,184.10" stroke="#888088"/>
<path d="M325.07,360.40 L326.43,360.19 L327.78,359.97 L329.13,359.74 L330.48,359.50 L331.84,359.25 L333.19,359.00 L334.54,358.74 L335.89,358.48 L337.25,358.21 L338.60,357.90 L339.95,357.56 L341.31,357.20 L342.66,356.78 L344.01,356.28 L345.36,355.70 L346.72,355.01 L348.07,354.26 L349.42,353.43 L350.77,352.50 L352.13,351.48 L353.48,350.36 L354.83,349.22 L356.18,347.91 L357.54,346.40 L358.89,344.92 L360.24,343.58 L361.60,342.35 L362.95,341.19 L364.30,339.83 L365.65,338.42 L367.01,337.26 L368.36,336.04 L369.71,334.55 L371.06,333.05 L372.42,331.66 L373.77,330.40 L375.12,329.09 L376.47,327.58 L377.83,326.08 L379.18,324.53 L380.53,323.02 L381.89,321.71 L383.24,320.46 L384.59,319.20 L385.94,317.71 L387.30,315.98 L388.65,314.36 L390.00,313.02 L391.35,311.72 L392.71,310.33 L394.06,308.70 L395.41,306.91 L396.76,305.34 L398.12,303.60 L399.47,301.82 L400.82,300.41 L402.18,298.86 L403.53,297.05 L404.88,295.56 L406.23,294.46 L407.59,293.26 L408.94,291.82 L410.29,290.19 L411.64,288.82 L413.00,287.73 L414.35,286.51 L415.70,285.36 L417.05,284.52 L418.41,283.64 L419.76,282.74 L421.11,282.35 L422.47,282.25 L423.82,281.96 L425.17,281.93 L426.52,282.37 L427.88,282.87 L429.23,284.38 L430.58,287.00 L431.93,289.35 L433.29,290.99 L434.64,292.33 L435.99,293.70 L437.34,295.04 L438.70,296.18 L440.05,297.47 L441.40,298.85 L442.76,300.23 L444.11,301.95 L445.46,304.05 L446.81,306.08 L448.17,308.11 L449.52,310.19 L450.87,312.22 L452.22,314.66 L453.58,317.47 L454.93,320.43 L456.28,323.82 L457.63,327.27 L458.99,330.45 L460.34,333.05 L461.69,335.35 L463.05,337.81 L464.40,340.29 L465.75,342.93 L467.10,345.73 L468.46,348.32 L469.81,350.43 L471.16,352.19 L472.51,353.78 L473.87,355.23 L475.22,356.48 L476.57,357.56 L477.92,358.56 L479.28,359.46 L480.63,360.25 L481.98,360.92 L483.34,361.50 L484.69,362.03 L486.04,362.51 L487.39,362.93 L488.75,363.30 L490.10,363.61 L491.45,363.89 L492.80,364.14 L494.16,364.38 L495.51,364.59 L496.86,364.79 L498.21,364.96 L499.57,365.10 L500.92,365.22 L502.27,365.33 L503.63,365.43 L504.98,365.52 L506.33,365.60 L507.68,365.68 L509.04,365.75 L510.39,365.81 L511.74,365.86 L513.09,365.91 L514.45,365.94 L515.80,365.97 L517.15,366.00 L518.50,366.03 L519.86,366.06 L521.21,366.08 L522.56,366.11 L523.92,366.13 L525.27,366.16 L526.62,366.18 L527.97,366.20 L529.33,366.22 L530.68,366.23 L532.03,366.25 L533.38,366.26 L534.74,366.27 L536.09,366.28 L537.44,366.29 L538.79,366.30 L540.15,366.30 L541.50,366.30" stroke="#9090d8"/>
<path d="M325.07,360.06 L326.43,359.86 L327.78,359.64 L329.13,359.41 L330.48,359.17 L331.84,358.93 L333.19,358.68 L334.54,358.42 L335.89,358.16 L337.25,357.88 L338.60,357.56 L339.95,357.21 L341.31,356.81 L342.66,356.34 L344.01,355.80 L345.36,355.18 L346.72,354.43 L348.07,353.58 L349.42,352.70 L350.77,351.79 L352.13,350.76 L353.48,349.63 L354.83,348.35 L356.18,346.84 L357.54,345.20 L358.89,343.57 L360.24,342.07 L361.60,340.72 L362.95,339.48 L364.30,338.16 L365.65,336.72 L367.01,335.31 L368.36,333.93 L369.71,332.60 L371.06,331.28 L372.42,330.00 L373.77,328.82 L375.12,327.45 L376.47,325.90 L377.83,324.15 L379.18,322.11 L380.53,320.42 L381.89,319.00 L383.24,317.40 L384.59,315.78 L385.94,314.25 L387.30,312.61 L388.65,310.93 L390.00,309.53 L391.35,308.32 L392.71,306.88 L394.06,305.19 L395.41,303.41 L396.76,301.53 L398.12,299.59 L399.47,297.62 L400.82,295.73 L402.18,294.04 L403.53,292.57 L404.88,291.00 L406.23,289.58 L407.59,288.44 L408.94,287.05 L410.29,285.49 L411.64,283.73 L413.00,282.07 L414.35,280.87 L415.70,279.88 L417.05,278.93 L418.41,278.06 L419.76,277.41 L421.11,276.75 L422.47,276.48 L423.82,276.41 L425.17,276.12 L426.52,276.46 L427.88,277.32 L429.23,278.69 L430.58,280.97 L431.93,283.24 L433.29,284.87 L434.64,286.32 L435.99,287.72 L437.34,289.25 L438.70,290.76 L440.05,292.16 L441.40,293.87 L442.76,295.81 L444.11,297.64 L445.46,299.51 L446.81,301.49 L448.17,303.65 L449.52,306.20 L450.87,308.83 L452.22,311.40 L453.58,314.07 L454.93,316.91 L456.28,320.38 L457.63,324.13 L458.99,327.45 L460.34,330.52 L461.69,333.26 L463.05,335.67 L464.40,338.30 L465.75,341.14 L467.10,344.00 L468.46,346.74 L469.81,349.01 L471.16,350.92 L472.51,352.62 L473.87,354.13 L475.22,355.44 L476.57,356.58 L477.92,357.63 L479.28,358.59 L480.63,359.46 L481.98,360.20 L483.34,360.85 L484.69,361.44 L486.04,361.98 L487.39,362.46 L488.75,362.87 L490.10,363.22 L491.45,363.54 L492.80,363.83 L494.16,364.09 L495.51,364.33 L496.86,364.54 L498.21,364.73 L499.57,364.90 L500.92,365.04 L502.27,365.16 L503.63,365.27 L504.98,365.38 L506.33,365.48 L507.68,365.57 L509.04,365.65 L510.39,365.73 L511.74,365.79 L513.09,365.85 L514.45,365.89 L515.80,365.93 L517.15,365.97 L518.50,366.00 L519.86,366.04 L521.21,366.07 L522.56,366.09 L523.92,366.12 L525.27,366.14 L526.62,366.17 L527.97,366.19 L529.33,366.21 L530.68,366.23 L532.03,366.24 L533.38,366.26 L534.74,366.27 L536.09,366.28 L537.44,366.29 L538.79,366.30 L540.15,366.30 L541.50,366.30" stroke="#c6b99a"/>
<path d="M325.07,359.83 L326.43,359.63 L327.78,359.41 L329.13,359.19 L330.48,358.95 L331.84,358.70 L333.19,358.45 L334.54,358.20 L335.89,357.94 L337.25,357.65 L338.60,357.33 L339.95,356.98 L341.31,356.55 L342.66,356.03 L344.01,355.45 L345.36,354.81 L346.72,354.06 L348.07,353.17 L349.42,352.24 L350.77,351.27 L352.13,350.19 L353.48,349.01 L354.83,347.69 L356.18,346.09 L357.54,344.34 L358.89,342.69 L360.24,341.32 L361.60,339.93 L362.95,338.36 L364.30,336.88 L365.65,335.46 L367.01,334.16 L368.36,332.99 L369.71,331.59 L371.06,329.99 L372.42,328.49 L373.77,327.13 L375.12,325.79 L376.47,324.20 L377.83,322.34 L379.18,320.63 L380.53,318.97 L381.89,317.22 L383.24,315.53 L384.59,313.85 L385.94,312.04 L387.30,310.23 L388.65,308.62 L390.00,307.10 L391.35,305.38 L392.71,303.72 L394.06,302.13 L395.41,300.23 L396.76,298.37 L398.12,296.64 L399.47,294.78 L400.82,292.74 L402.18,290.85 L403.53,289.38 L404.88,288.05 L406.23,286.80 L407.59,285.28 L408.94,283.36 L410.29,281.59 L411.64,280.04 L413.00,278.50 L414.35,277.06 L415.70,275.91 L417.05,275.02 L418.41,274.18 L419.76,273.38 L421.11,272.68 L422.47,272.09 L423.82,271.94 L425.17,272.32 L426.52,272.80 L427.88,273.64 L429.23,275.33 L430.58,277.40 L431.93,279.31 L433.29,280.89 L434.64,282.48 L435.99,284.13 L437.34,285.67 L438.70,287.21 L440.05,288.91 L441.40,290.55 L442.76,292.35 L444.11,294.34 L445.46,296.49 L446.81,298.89 L448.17,301.23 L449.52,303.70 L450.87,306.58 L452.22,309.32 L453.58,311.85 L454.93,314.61 L456.28,318.03 L457.63,321.84 L458.99,325.32 L460.34,328.36 L461.69,331.17 L463.05,333.87 L464.40,336.69 L465.75,339.80 L467.10,342.84 L468.46,345.52 L469.81,347.94 L471.16,349.99 L472.51,351.75 L473.87,353.39 L475.22,354.78 L476.57,355.93 L477.92,356.99 L479.28,357.99 L480.63,358.91 L481.98,359.71 L483.34,360.41 L484.69,361.04 L486.04,361.62 L487.39,362.13 L488.75,362.57 L490.10,362.96 L491.45,363.30 L492.80,363.61 L494.16,363.89 L495.51,364.15 L496.86,364.38 L498.21,364.58 L499.57,364.76 L500.92,364.91 L502.27,365.04 L503.63,365.17 L504.98,365.28 L506.33,365.39 L507.68,365.49 L509.04,365.58 L510.39,365.67 L511.74,365.74 L513.09,365.80 L514.45,365.86 L515.80,365.90 L517.15,365.94 L518.50,365.98 L519.86,366.02 L521.21,366.05 L522.56,366.08 L523.92,366.11 L525.27,366.14 L526.62,366.16 L527.97,366.18 L529.33,366.20 L530.68,366.22 L532.03,366.24 L533.38,366.26 L534.74,366.27 L536.09,366.28 L537.44,366.29 L538.79,366.29 L540.15,366.30 L541.50,366.30" stroke="#aaa2aa"/>
<path d="M325.07,359.56 L326.43,359.37 L327.78,359.16 L329.13,358.93 L330.48,358.70 L331.84,358.45 L333.19,358.20 L334.54,357.94 L335.89,357.68 L337.25,357.39 L338.60,357.07 L339.95,356.69 L341.31,356.26 L342.66,355.75 L344.01,355.14 L345.36,354.41 L346.72,353.57 L348.07,352.67 L349.42,351.74 L350.77,350.77 L352.13,349.70 L353.48,348.43 L354.83,347.01 L356.18,345.30 L357.54,343.40 L358.89,341.61 L360.24,339.90 L361.60,338.36 L362.95,337.03 L364.30,335.66 L365.65,334.31 L367.01,333.00 L368.36,331.54 L369.71,330.09 L371.06,328.69 L372.42,327.36 L373.77,326.06 L375.12,324.53 L376.47,322.70 L377.83,320.76 L379.18,319.10 L380.53,317.40 L381.89,315.38 L383.24,313.49 L384.59,311.66 L385.94,309.91 L387.30,308.34 L388.65,306.56 L390.00,304.56 L391.35,302.55 L392.71,300.74 L394.06,299.03 L395.41,297.04 L396.76,294.95 L398.12,293.10 L399.47,291.17 L400.82,289.15 L402.18,287.32 L403.53,285.62 L404.88,284.04 L406.23,282.58 L407.59,281.29 L408.94,279.85 L410.29,277.83 L411.64,275.88 L413.00,274.37 L414.35,273.13 L415.70,271.98 L417.05,270.72 L418.41,269.63 L419.76,269.20 L421.11,268.77 L422.47,268.10 L423.82,267.85 L425.17,268.01 L426.52,268.56 L427.88,269.46 L429.23,270.77 L430.58,272.88 L431.93,275.09 L433.29,276.74 L434.64,278.03 L435.99,279.35 L437.34,281.16 L438.70,282.95 L440.05,284.57 L441.40,286.42 L442.76,288.50 L444.11,290.75 L445.46,292.96 L446.81,295.16 L448.17,297.62 L449.52,300.39 L450.87,303.19 L452.22,305.92 L453.58,309.03 L454.93,312.40 L456.28,315.86 L457.63,319.36 L458.99,322.77 L460.34,326.11 L461.69,329.28 L463.05,332.26 L464.40,335.32 L465.75,338.36 L467.10,341.40 L468.46,344.31 L469.81,346.83 L471.16,349.03 L472.51,350.91 L473.87,352.56 L475.22,353.98 L476.57,355.17 L477.92,356.28 L479.28,357.32 L480.63,358.28 L481.98,359.14 L483.34,359.90 L484.69,360.58 L486.04,361.20 L487.39,361.76 L488.75,362.24 L490.10,362.65 L491.45,363.02 L492.80,363.36 L494.16,363.67 L495.51,363.94 L496.86,364.19 L498.21,364.40 L499.57,364.60 L500.92,364.76 L502.27,364.91 L503.63,365.05 L504.98,365.17 L506.33,365.29 L507.68,365.41 L509.04,365.51 L510.39,365.60 L511.74,365.69 L513.09,365.76 L514.45,365.82 L515.80,365.87 L517.15,365.92 L518.50,365.96 L519.86,366.00 L521.21,366.04 L522.56,366.07 L523.92,366.10 L525.27,366.13 L526.62,366.15 L527.97,366.17 L529.33,366.20 L530.68,366.22 L532.03,366.24 L533.38,366.25 L534.74,366.27 L536.09,366.28 L537.44,366.29 L538.79,366.29 L540.15,366.30 L541.50,366.30" stroke="#c2ac96"/>
<path d="M325.07,359.27 L326.43,359.09 L327.78,358.88 L329.13,358.66 L330.48,358.44 L331.84,358.19 L333.19,357.93 L334.54,357.66 L335.89,357.39 L337.25,357.10 L338.60,356.77 L339.95,356.39 L341.31,355.94 L342.66,355.36 L344.01,354.66 L345.36,353.93 L346.72,353.14 L348.07,352.22 L349.42,351.15 L350.77,350.02 L352.13,348.93 L353.48,347.75 L354.83,346.28 L356.18,344.34 L357.54,342.27 L358.89,340.48 L360.24,338.88 L361.60,337.25 L362.95,335.73 L364.30,334.26 L365.65,332.66 L367.01,331.31 L368.36,329.90 L369.71,328.38 L371.06,327.08 L372.42,325.68 L373.77,324.07 L375.12,322.44 L376.47,320.80 L377.83,319.08 L379.18,317.21 L380.53,315.17 L381.89,313.17 L383.24,311.17 L384.59,309.20 L385.94,307.22 L387.30,304.96 L388.65,302.92 L390.00,301.19 L391.35,299.28 L392.71,297.28 L394.06,295.38 L395.41,293.47 L396.76,291.43 L398.12,289.23 L399.47,287.22 L400.82,285.55 L402.18,283.75 L403.53,281.99 L404.88,280.26 L406.23,278.49 L407.59,277.04 L408.94,275.60 L410.29,273.88 L411.64,272.03 L413.00,270.23 L414.35,268.60 L415.70,267.00 L417.05,266.02 L418.41,265.34 L419.76,264.31 L421.11,263.61 L422.47,263.10 L423.82,262.49 L425.17,262.36 L426.52,263.04 L427.88,264.35 L429.23,265.94 L430.58,267.78 L431.93,269.94 L433.29,271.74 L434.64,273.14 L435.99,274.83 L437.34,276.83 L438.70,278.76 L440.05,280.54 L441.40,282.39 L442.76,284.51 L444.11,286.78 L445.46,289.02 L446.81,291.34 L448.17,293.97 L449.52,296.84 L450.87,299.87 L452.22,302.98 L453.58,306.09 L454.93,309.25 L456.28,312.70 L457.63,316.56 L458.99,320.30 L460.34,323.62 L461.69,326.96 L463.05,330.33 L464.40,333.78 L465.75,337.09 L467.10,340.08 L468.46,342.96 L469.81,345.72 L471.16,347.98 L472.51,349.83 L473.87,351.55 L475.22,353.08 L476.57,354.36 L477.92,355.50 L479.28,356.59 L480.63,357.61 L481.98,358.53 L483.34,359.35 L484.69,360.08 L486.04,360.76 L487.39,361.36 L488.75,361.88 L490.10,362.32 L491.45,362.73 L492.80,363.10 L494.16,363.43 L495.51,363.72 L496.86,363.98 L498.21,364.21 L499.57,364.42 L500.92,364.60 L502.27,364.77 L503.63,364.92 L504.98,365.06 L506.33,365.19 L507.68,365.31 L509.04,365.43 L510.39,365.53 L511.74,365.63 L513.09,365.71 L514.45,365.77 L515.80,365.83 L517.15,365.89 L518.50,365.94 L519.86,365.98 L521.21,366.02 L522.56,366.06 L523.92,366.09 L525.27,366.12 L526.62,366.14 L527.97,366.17 L529.33,366.19 L530.68,366.21 L532.03,366.23 L533.38,366.25 L534.74,366.26 L536.09,366.28 L537.44,366.29 L538.79,366.29 L540.15,366.30 L541.50,366.30" stroke="#a08cd2"/>
<path d="M325.07,359.04 L326.43,358.86 L327.78,358.65 L329.13,358.44 L330.48,358.21 L331.84,357.97 L333.19,357.71 L334.54,357.45 L335.89,357.19 L337.25,356.88 L338.60,356.52 L339.95,356.13 L341.31,355.67 L342.66,355.06 L344.01,354.34 L345.36,353.60 L346.72,352.74 L348.07,351.78 L349.42,350.71 L350.77,349.57 L352.13,348.40 L353.48,347.19 L354.83,345.73 L356.18,343.71 L357.54,341.36 L358.89,339.27 L360.24,337.66 L361.60,336.19 L362.95,334.60 L364.30,333.09 L365.65,331.55 L367.01,329.75 L368.36,328.27 L369.71,327.11 L371.06,325.65 L372.42,324.00 L373.77,322.27 L375.12,320.64 L376.47,319.06 L377.83,317.35 L379.18,315.68 L380.53,313.49 L381.89,310.94 L383.24,308.99 L384.59,307.17 L385.94,305.11 L387.30,302.98 L388.65,300.83 L390.00,298.78 L391.35,296.80 L392.71,294.84 L394.06,292.75 L395.41,290.58 L396.76,288.49 L398.12,286.43 L399.47,284.04 L400.82,281.90 L402.18,280.42 L403.53,278.92 L404.88,277.40 L406.23,276.03 L407.59,274.29 L408.94,272.11 L410.29,270.21 L411.64,268.42 L413.00,266.26 L414.35,264.51 L415.70,263.44 L417.05,262.48 L418.41,261.38 L419.76,260.14 L421.11,259.12 L422.47,258.72 L423.82,258.72 L425.17,259.27 L426.52,260.04 L427.88,260.78 L429.23,262.09 L430.58,263.83 L431.93,265.54 L433.29,267.37 L434.64,269.32 L435.99,271.08 L437.34,272.86 L438.70,274.82 L440.05,276.62 L441.40,278.45 L442.76,280.66 L444.11,282.95 L445.46,285.37 L446.81,288.03 L448.17,290.74 L449.52,293.58 L450.87,296.76 L452.22,300.27 L453.58,303.70 L454.93,307.11 L456.28,311.01 L457.63,314.80 L458.99,318.07 L460.34,321.55 L461.69,325.28 L463.05,328.80 L464.40,332.36 L465.75,335.84 L467.10,338.97 L468.46,341.96 L469.81,344.77 L471.16,347.09 L472.51,349.06 L473.87,350.87 L475.22,352.41 L476.57,353.70 L477.92,354.86 L479.28,355.97 L480.63,357.04 L481.98,358.03 L483.34,358.90 L484.69,359.68 L486.04,360.39 L487.39,361.03 L488.75,361.58 L490.10,362.06 L491.45,362.49 L492.80,362.88 L494.16,363.23 L495.51,363.54 L496.86,363.81 L498.21,364.06 L499.57,364.28 L500.92,364.47 L502.27,364.65 L503.63,364.81 L504.98,364.96 L506.33,365.10 L507.68,365.24 L509.04,365.36 L510.39,365.48 L511.74,365.58 L513.09,365.66 L514.45,365.74 L515.80,365.80 L517.15,365.86 L518.50,365.92 L519.86,365.97 L521.21,366.01 L522.56,366.05 L523.92,366.08 L525.27,366.11 L526.62,366.13 L527.97,366.16 L529.33,366.19 L530.68,366.21 L532.03,366.23 L533.38,366.25 L534.74,366.26 L536.09,366.28 L537.44,366.29 L538.79,366.29 L540.15,366.30 L541.50,366.30" stroke="#c0b890"/>
<path d="M325.07,358.72 L326.43,358.55 L327.78,358.35 L329.13,358.13 L330.48,357.89 L331.84,357.65 L333.19,357.41 L334.54,357.15 L335.89,356.88 L337.25,356.57 L338.60,356.23 L339.95,355.85 L341.31,355.38 L342.66,354.71 L344.01,353.90 L345.36,353.06 L346.72,352.16 L348.07,351.13 L349.42,350.05 L350.77,348.98 L352.13,347.81 L353.48,346.45 L354.83,344.81 L356.18,342.67 L357.54,340.30 L358.89,338.11 L360.24,336.30 L361.60,334.53 L362.95,332.70 L364.30,331.25 L365.65,330.09 L367.01,328.71 L368.36,327.04 L369.71,325.44 L371.06,323.78 L372.42,321.88 L373.77,320.19 L375.12,318.76 L376.47,317.10 L377.83,315.45 L379.18,313.62 L380.53,311.18 L381.89,308.59 L383.24,306.21 L384.59,304.02 L385.94,301.76 L387.30,299.18 L388.65,296.78 L390.00,295.00 L391.35,293.44 L392.71,291.45 L394.06,289.05 L395.41,286.77 L396.76,284.47 L398.12,282.25 L399.47,280.32 L400.82,278.44 L402.18,276.64 L403.53,274.77 L404.88,272.83 L406.23,270.94 L407.59,269.07 L408.94,267.26 L410.29,265.31 L411.64,263.40 L413.00,261.58 L414.35,259.73 L415.70,258.02 L417.05,256.51 L418.41,255.56 L419.76,255.04 L421.11,254.28 L422.47,253.56 L423.82,253.28 L425.17,253.59 L426.52,254.26 L427.88,255.14 L429.23,256.57 L430.58,258.58 L431.93,260.56 L433.29,262.28 L434.64,264.02 L435.99,265.89 L437.34,267.89 L438.70,269.75 L440.05,271.70 L441.40,274.00 L442.76,276.37 L444.11,278.74 L445.46,281.07 L446.81,283.60 L448.17,286.64 L449.52,290.01 L450.87,293.49 L452.22,297.05 L453.58,300.55 L454.93,304.16 L456.28,307.68 L457.63,311.06 L458.99,314.77 L460.34,318.65 L461.69,322.61 L463.05,326.73 L464.40,330.78 L465.75,334.18 L467.10,337.21 L468.46,340.20 L469.81,343.20 L471.16,345.88 L472.51,348.00 L473.87,349.83 L475.22,351.43 L476.57,352.74 L477.92,353.92 L479.28,355.13 L480.63,356.30 L481.98,357.37 L483.34,358.29 L484.69,359.13 L486.04,359.90 L487.39,360.59 L488.75,361.18 L490.10,361.69 L491.45,362.16 L492.80,362.58 L494.16,362.96 L495.51,363.29 L496.86,363.59 L498.21,363.85 L499.57,364.09 L500.92,364.30 L502.27,364.49 L503.63,364.67 L504.98,364.83 L506.33,364.99 L507.68,365.13 L509.04,365.27 L510.39,365.40 L511.74,365.51 L513.09,365.61 L514.45,365.69 L515.80,365.76 L517.15,365.83 L518.50,365.89 L519.86,365.95 L521.21,365.99 L522.56,366.03 L523.92,366.06 L525.27,366.09 L526.62,366.12 L527.97,366.15 L529.33,366.18 L530.68,366.20 L532.03,366.22 L533.38,366.24 L534.74,366.26 L536.09,366.27 L537.44,366.29 L538.79,366.29 L540.15,366.30 L541.50,366.30" stroke="#9890dc"/>
<path d="M325.07,358.41 L326.43,358.23 L327.78,358.05 L329.13,357.84 L330.48,357.60 L331.84,357.35 L333.19,357.10 L334.54,356.84 L335.89,356.55 L337.25,356.22 L338.60,355.87 L339.95,355.48 L341.31,355.02 L342.66,354.34 L344.01,353.47 L345.36,352.57 L346.72,351.63 L348.07,350.59 L349.42,349.46 L350.77,348.24 L352.13,346.92 L353.48,345.61 L354.83,344.07 L356.18,341.78 L357.54,339.12 L358.89,336.79 L360.24,334.79 L361.60,332.80 L362.95,331.07 L364.30,329.58 L365.65,328.13 L367.01,326.90 L368.36,325.68 L369.71,324.18 L371.06,322.42 L372.42,320.66 L373.77,319.03 L375.12,317.23 L376.47,315.47 L377.83,313.79 L379.18,311.65 L380.53,309.01 L381.89,306.17 L383.24,303.61 L384.59,301.20 L385.94,298.98 L387.30,296.83 L388.65,294.37 L390.00,292.12 L391.35,290.04 L392.71,287.70 L394.06,285.34 L395.41,283.19 L396.76,280.94 L398.12,278.53 L399.47,276.25 L400.82,274.16 L402.18,272.12 L403.53,270.17 L404.88,268.43 L406.23,266.77 L407.59,264.82 L408.94,262.73 L410.29,260.87 L411.64,258.78 L413.00,256.69 L414.35,254.83 L415.70,252.87 L417.05,251.56 L418.41,250.91 L419.76,250.24 L421.11,249.37 L422.47,248.71 L423.82,248.45 L425.17,248.39 L426.52,248.97 L427.88,250.20 L429.23,251.60 L430.58,253.49 L431.93,255.56 L433.29,257.20 L434.64,259.11 L435.99,261.26 L437.34,263.15 L438.70,265.06 L440.05,267.08 L441.40,269.46 L442.76,272.05 L444.11,274.35 L445.46,276.81 L446.81,279.87 L448.17,282.98 L449.52,286.21 L450.87,289.97 L452.22,293.92 L453.58,297.61 L454.93,301.25 L456.28,304.91 L457.63,308.37 L458.99,312.15 L460.34,316.40 L461.69,320.71 L463.05,324.99 L464.40,328.85 L465.75,332.08 L467.10,335.39 L468.46,338.77 L469.81,341.97 L471.16,344.77 L472.51,347.05 L473.87,348.92 L475.22,350.52 L476.57,351.94 L477.92,353.18 L479.28,354.40 L480.63,355.60 L481.98,356.71 L483.34,357.70 L484.69,358.60 L486.04,359.42 L487.39,360.15 L488.75,360.79 L490.10,361.34 L491.45,361.84 L492.80,362.30 L494.16,362.70 L495.51,363.06 L496.86,363.37 L498.21,363.65 L499.57,363.90 L500.92,364.13 L502.27,364.34 L503.63,364.53 L504.98,364.71 L506.33,364.87 L507.68,365.03 L509.04,365.18 L510.39,365.32 L511.74,365.45 L513.09,365.55 L514.45,365.64 L515.80,365.72 L517.15,365.80 L518.50,365.86 L519.86,365.92 L521.21,365.98 L522.56,366.02 L523.92,366.05 L525.27,366.08 L526.62,366.11 L527.97,366.14 L529.33,366.17 L530.68,366.20 L532.03,366.22 L533.38,366.24 L534.74,366.26 L536.09,366.27 L537.44,366.28 L538.79,366.29 L540.15,366.30 L541.50,366.30" stroke="#a89ae2"/>
<path d="M325.07,358.06 L326.43,357.90 L327.78,357.71 L329.13,357.50 L330.48,357.28 L331.84,357.03 L333.19,356.79 L334.54,356.55 L335.89,356.26 L337.25,355.94 L338.60,355.58 L339.95,355.14 L341.31,354.59 L342.66,353.85 L344.01,352.93 L345.36,352.01 L346.72,351.05 L348.07,349.93 L349.42,348.73 L350.77,347.46 L352.13,346.04 L353.48,344.67 L354.83,343.05 L356.18,340.68 L357.54,337.99 L358.89,335.45 L360.24,333.25 L361.60,331.23 L362.95,329.45 L364.30,327.96 L365.65,326.59 L367.01,325.18 L368.36,323.65 L369.71,322.01 L371.06,320.23 L372.42,318.44 L373.77,316.78 L375.12,314.91 L376.47,312.94 L377.83,310.94 L379.18,308.71 L380.53,306.35 L381.89,303.52 L383.24,300.61 L384.59,297.93 L385.94,295.41 L387.30,293.28 L388.65,291.12 L390.00,288.68 L391.35,286.26 L392.71,284.00 L394.06,281.62 L395.41,278.89 L396.76,276.15 L398.12,273.84 L399.47,271.61 L400.82,269.34 L402.18,267.27 L403.53,265.36 L404.88,263.39 L406.23,261.58 L407.59,260.07 L408.94,258.28 L410.29,255.82 L411.64,253.10 L413.00,250.98 L414.35,249.38 L415.70,247.45 L417.05,245.88 L418.41,245.06 L419.76,244.26 L421.11,243.23 L422.47,242.47 L423.82,242.28 L425.17,242.66 L426.52,243.49 L427.88,244.44 L429.23,245.63 L430.58,247.52 L431.93,249.57 L433.29,251.38 L434.64,253.04 L435.99,254.79 L437.34,256.97 L438.70,259.22 L440.05,261.30 L441.40,263.62 L442.76,266.33 L444.11,269.22 L445.46,271.94 L446.81,274.82 L448.17,278.28 L449.52,282.10 L450.87,285.94 L452.22,289.99 L453.58,293.97 L454.93,297.63 L456.28,301.38 L457.63,305.15 L458.99,308.93 L460.34,313.13 L461.69,317.67 L463.05,322.23 L464.40,326.61 L465.75,330.38 L467.10,333.84 L468.46,337.08 L469.81,340.29 L471.16,343.30 L472.51,345.72 L473.87,347.69 L475.22,349.37 L476.57,350.83 L477.92,352.17 L479.28,353.46 L480.63,354.73 L481.98,355.94 L483.34,357.03 L484.69,357.98 L486.04,358.86 L487.39,359.65 L488.75,360.33 L490.10,360.93 L491.45,361.47 L492.80,361.96 L494.16,362.40 L495.51,362.78 L496.86,363.11 L498.21,363.41 L499.57,363.68 L500.92,363.93 L502.27,364.15 L503.63,364.36 L504.98,364.56 L506.33,364.74 L507.68,364.92 L509.04,365.08 L510.39,365.23 L511.74,365.37 L513.09,365.49 L514.45,365.59 L515.80,365.68 L517.15,365.76 L518.50,365.83 L519.86,365.90 L521.21,365.96 L522.56,366.00 L523.92,366.04 L525.27,366.07 L526.62,366.10 L527.97,366.13 L529.33,366.16 L530.68,366.19 L532.03,366.21 L533.38,366.24 L534.74,366.25 L536.09,366.27 L537.44,366.28 L538.79,366.29 L540.15,366.30 L541.50,366.30" stroke="#9a84d8"/>
<path d="M325.07,357.52 L326.43,357.36 L327.78,357.18 L329.13,356.99 L330.48,356.77 L331.84,356.51 L333.19,356.25 L334.54,356.01 L335.89,355.71 L337.25,355.35 L338.60,355.01 L339.95,354.58 L341.31,353.98 L342.66,353.10 L344.01,352.06 L345.36,351.11 L346.72,350.12 L348.07,348.95 L349.42,347.66 L350.77,346.31 L352.13,344.96 L353.48,343.57 L354.83,341.76 L356.18,339.06 L357.54,335.96 L358.89,333.20 L360.24,331.04 L361.60,329.12 L362.95,327.20 L364.30,325.39 L365.65,323.72 L367.01,322.36 L368.36,321.01 L369.71,319.33 L371.06,317.37 L372.42,315.38 L373.77,313.59 L375.12,311.80 L376.47,309.86 L377.83,307.78 L379.18,305.53 L380.53,302.87 L381.89,299.31 L383.24,295.74 L384.59,293.11 L385.94,290.88 L387.30,288.22 L388.65,285.44 L390.00,282.93 L391.35,280.35 L392.71,277.52 L394.06,274.53 L395.41,271.79 L396.76,269.29 L398.12,266.92 L399.47,264.74 L400.82,262.65 L402.18,260.73 L403.53,258.82 L404.88,256.55 L406.23,254.08 L407.59,251.75 L408.94,249.46 L410.29,246.99 L411.64,244.66 L413.00,242.65 L414.35,240.64 L415.70,238.65 L417.05,237.35 L418.41,236.33 L419.76,235.20 L421.11,234.18 L422.47,233.53 L423.82,233.31 L425.17,233.30 L426.52,233.86 L427.88,235.17 L429.23,236.72 L430.58,238.26 L431.93,239.98 L433.29,241.96 L434.64,243.68 L435.99,245.43 L437.34,247.75 L438.70,250.39 L440.05,253.03 L441.40,255.81 L442.76,258.68 L444.11,261.82 L445.46,265.09 L446.81,268.08 L448.17,271.38 L449.52,275.61 L450.87,280.03 L452.22,284.10 L453.58,288.18 L454.93,292.37 L456.28,296.40 L457.63,300.37 L458.99,304.26 L460.34,308.40 L461.69,313.32 L463.05,318.64 L464.40,323.50 L465.75,327.42 L467.10,331.01 L468.46,334.48 L469.81,338.00 L471.16,341.26 L472.51,343.84 L473.87,345.99 L475.22,347.87 L476.57,349.37 L477.92,350.68 L479.28,352.06 L480.63,353.49 L481.98,354.82 L483.34,355.99 L484.69,357.03 L486.04,358.01 L487.39,358.89 L488.75,359.65 L490.10,360.31 L491.45,360.91 L492.80,361.46 L494.16,361.94 L495.51,362.36 L496.86,362.72 L498.21,363.05 L499.57,363.36 L500.92,363.63 L502.27,363.88 L503.63,364.12 L504.98,364.34 L506.33,364.54 L507.68,364.74 L509.04,364.93 L510.39,365.10 L511.74,365.26 L513.09,365.39 L514.45,365.51 L515.80,365.61 L517.15,365.70 L518.50,365.79 L519.86,365.86 L521.21,365.93 L522.56,365.97 L523.92,366.01 L525.27,366.05 L526.62,366.09 L527.97,366.12 L529.33,366.15 L530.68,366.18 L532.03,366.21 L533.38,366.23 L534.74,366.25 L536.09,366.27 L537.44,366.28 L538.79,366.29 L540.15,366.30 L541.50,366.30" stroke="#bcae8c"/>
<path d="M325.07,356.86 L326.43,356.71 L327.78,356.53 L329.13,356.35 L330.48,356.13 L331.84,355.86 L333.19,355.58 L334.54,355.32 L335.89,355.05 L337.25,354.71 L338.60,354.32 L339.95,353.86 L341.31,353.24 L342.66,352.28 L344.01,351.09 L345.36,350.05 L346.72,348.98 L348.07,347.64 L349.42,346.29 L350.77,345.00 L352.13,343.50 L353.48,341.90 L354.83,340.01 L356.18,337.12 L357.54,333.59 L358.89,330.25 L360.24,327.51 L361.60,325.38 L362.95,323.78 L364.30,322.20 L365.65,320.37 L367.01,318.60 L368.36,317.00 L369.71,315.42 L371.06,313.69 L372.42,311.85 L373.77,309.83 L375.12,307.82 L376.47,305.76 L377.83,303.38 L379.18,301.13 L380.53,298.34 L381.89,294.22 L383.24,290.28 L384.59,287.06 L385.94,284.23 L387.30,281.47 L388.65,278.58 L390.00,275.78 L391.35,273.02 L392.71,270.25 L394.06,267.23 L395.41,264.18 L396.76,261.28 L398.12,258.28 L399.47,255.72 L400.82,253.88 L402.18,252.05 L403.53,249.82 L404.88,247.32 L406.23,244.88 L407.59,242.62 L408.94,240.36 L410.29,237.80 L411.64,234.85 L413.00,232.21 L414.35,230.25 L415.70,228.29 L417.05,226.52 L418.41,225.32 L419.76,224.22 L421.11,223.02 L422.47,222.14 L423.82,221.59 L425.17,221.89 L426.52,222.99 L427.88,224.17 L429.23,225.65 L430.58,227.49 L431.93,229.12 L433.29,230.51 L434.64,232.11 L435.99,234.27 L437.34,236.75 L438.70,239.49 L440.05,242.57 L441.40,245.96 L442.76,249.11 L444.11,252.18 L445.46,255.78 L446.81,259.54 L448.17,263.31 L449.52,267.74 L450.87,272.68 L452.22,277.51 L453.58,281.71 L454.93,285.62 L456.28,289.84 L457.63,294.00 L458.99,297.97 L460.34,302.54 L461.69,308.00 L463.05,313.95 L464.40,319.52 L465.75,323.60 L467.10,327.27 L468.46,331.32 L469.81,335.34 L471.16,338.71 L472.51,341.43 L473.87,343.75 L475.22,345.76 L476.57,347.45 L477.92,348.87 L479.28,350.29 L480.63,351.85 L481.98,353.39 L483.34,354.71 L484.69,355.86 L486.04,356.96 L487.39,357.96 L488.75,358.80 L490.10,359.55 L491.45,360.22 L492.80,360.84 L494.16,361.38 L495.51,361.84 L496.86,362.24 L498.21,362.61 L499.57,362.95 L500.92,363.26 L502.27,363.55 L503.63,363.82 L504.98,364.06 L506.33,364.30 L507.68,364.52 L509.04,364.74 L510.39,364.94 L511.74,365.12 L513.09,365.27 L514.45,365.41 L515.80,365.53 L517.15,365.63 L518.50,365.73 L519.86,365.82 L521.21,365.89 L522.56,365.94 L523.92,365.99 L525.27,366.03 L526.62,366.06 L527.97,366.10 L529.33,366.14 L530.68,366.17 L532.03,366.20 L533.38,366.22 L534.74,366.25 L536.09,366.26 L537.44,366.28 L538.79,366.29 L540.15,366.30 L541.50,366.30" stroke="#888088"/>
</g>
<g stroke="#505050" stroke-width="1" fill="none">
<line x1="50.7" y1="23.5" x2="50.7" y2="184.7"/>
<line x1="50.7" y1="184.1" x2="267.0" y2="184.1"/>
<line x1="47.7" y1="184.10" x2="50.7" y2="184.10"/>
<line x1="47.7" y1="130.57" x2="50.7" y2="130.57"/>
<line x1="47.7" y1="77.03" x2="50.7" y2="77.03"/>
<line x1="47.7" y1="23.50" x2="50.7" y2="23.50"/>
<line x1="48.2" y1="157.33" x2="50.7" y2="157.33"/>
<line x1="48.2" y1="103.80" x2="50.7" y2="103.80"/>
<line x1="48.2" y1="50.27" x2="50.7" y2="50.27"/>
<line x1="50.70" y1="184.1" x2="50.70" y2="187.1"/>
<line x1="122.63" y1="184.1" x2="122.63" y2="187.1"/>
<line x1="194.57" y1="184.1" x2="194.57" y2="187.1"/>
<line x1="266.50" y1="184.1" x2="266.50" y2="187.1"/>
<line x1="86.67" y1="184.1" x2="86.67" y2="186.6"/>
<line x1="158.60" y1="184.1" x2="158.60" y2="186.6"/>
<line x1="230.53" y1="184.1" x2="230.53" y2="186.6"/>
<line x1="51.8" y1="205.7" x2="51.8" y2="367.6"/>
<line x1="51.8" y1="367.0" x2="270.8" y2="367.0"/>
<line x1="48.8" y1="367.00" x2="51.8" y2="367.00"/>
<line x1="48.8" y1="313.23" x2="51.8" y2="313.23"/>
<line x1="48.8" y1="259.47" x2="51.8" y2="259.47"/>
<line x1="48.8" y1="205.70" x2="51.8" y2="205.70"/>
<line x1="49.3" y1="340.12" x2="51.8" y2="340.12"/>
<line x1="49.3" y1="286.35" x2="51.8" y2="286.35"/>
<line x1="49.3" y1="232.58" x2="51.8" y2="232.58"/>
<line x1="51.80" y1="367.0" x2="51.80" y2="370.0"/>
<line x1="124.63" y1="367.0" x2="124.63" y2="370.0"/>
<line x1="197.47" y1="367.0" x2="197.47" y2="370.0"/>
<line x1="270.30" y1="367.0" x2="270.30" y2="370.0"/>
<line x1="88.22" y1="367.0" x2="88.22" y2="369.5"/>
<line x1="161.05" y1="367.0" x2="161.05" y2="369.5"/>
<line x1="233.88" y1="367.0" x2="233.88" y2="369.5"/>
<line x1="322.2" y1="24.1" x2="322.2" y2="184.7"/>
<line x1="319.4" y1="184.1" x2="538.0" y2="184.1"/>
<line x1="319.2" y1="184.10" x2="322.2" y2="184.10"/>
<line x1="319.2" y1="130.77" x2="322.2" y2="130.77"/>
<line x1="319.2" y1="77.43" x2="322.2" y2="77.43"/>
<line x1="319.2" y1="24.10" x2="322.2" y2="24.10"/>
<line x1="319.7" y1="157.43" x2="322.2" y2="157.43"/>
<line x1="319.7" y1="104.10" x2="322.2" y2="104.10"/>
<line x1="319.7" y1="50.77" x2="322.2" y2="50.77"/>
<line x1="335.10" y1="184.1" x2="335.10" y2="187.1"/>
<line x1="402.57" y1="184.1" x2="402.57" y2="187.1"/>
<line x1="470.03" y1="184.1" x2="470.03" y2="187.1"/>
<line x1="537.50" y1="184.1" x2="537.50" y2="187.1"/>
<line x1="368.83" y1="184.1" x2="368.83" y2="186.6"/>
<line x1="436.30" y1="184.1" x2="436.30" y2="186.6"/>
<line x1="503.77" y1="184.1" x2="503.77" y2="186.6"/>
<line x1="325.2" y1="205.7" x2="325.2" y2="366.90000000000003"/>
<line x1="322.7" y1="366.3" x2="542.0" y2="366.3"/>
<line x1="322.2" y1="366.30" x2="325.2" y2="366.30"/>
<line x1="322.2" y1="312.77" x2="325.2" y2="312.77"/>
<line x1="322.2" y1="259.23" x2="325.2" y2="259.23"/>
<line x1="322.2" y1="205.70" x2="325.2" y2="205.70"/>
<line x1="322.7" y1="339.53" x2="325.2" y2="339.53"/>
<line x1="322.7" y1="286.00" x2="325.2" y2="286.00"/>
<line x1="322.7" y1="232.47" x2="325.2" y2="232.47"/>
<line x1="338.60" y1="366.3" x2="338.60" y2="369.3"/>
<line x1="406.23" y1="366.3" x2="406.23" y2="369.3"/>
<line x1="473.87" y1="366.3" x2="473.87" y2="369.3"/>
<line x1="541.50" y1="366.3" x2="541.50" y2="369.3"/>
<line x1="372.42" y1="366.3" x2="372.42" y2="368.8"/>
<line x1="440.05" y1="366.3" x2="440.05" y2="368.8"/>
<line x1="507.68" y1="366.3" x2="507.68" y2="368.8"/>
</g>
<g class="tl">
<text transform="translate(46.50,187.40) scale(1.02,0.92)" text-anchor="end">0</text>
<text transform="translate(46.50,133.87) scale(1.02,0.92)" text-anchor="end">200</text>
<text transform="translate(46.50,80.33) scale(1.02,0.92)" text-anchor="end">400</text>
<text transform="translate(46.50,26.80) scale(1.02,0.92)" text-anchor="end">600</text>
<text transform="translate(51.30,195.40) scale(1.02,0.92)" text-anchor="middle">250</text>
<text transform="translate(123.23,195.40) scale(1.02,0.92)" text-anchor="middle">275</text>
<text transform="translate(195.17,195.40) scale(1.02,0.92)" text-anchor="middle">300</text>
<text transform="translate(267.10,195.40) scale(1.02,0.92)" text-anchor="middle">325</text>
<text transform="translate(47.60,370.30) scale(1.02,0.92)" text-anchor="end">0</text>
<text transform="translate(47.60,316.53) scale(1.02,0.92)" text-anchor="end">200</text>
<text transform="translate(47.60,262.77) scale(1.02,0.92)" text-anchor="end">400</text>
<text transform="translate(47.60,209.00) scale(1.02,0.92)" text-anchor="end">600</text>
<text transform="translate(52.40,378.30) scale(1.02,0.92)" text-anchor="middle">250</text>
<text transform="translate(125.23,378.30) scale(1.02,0.92)" text-anchor="middle">275</text>
<text transform="translate(198.07,378.30) scale(1.02,0.92)" text-anchor="middle">300</text>
<text transform="translate(270.90,378.30) scale(1.02,0.92)" text-anchor="middle">325</text>
<text transform="translate(318.00,187.40) scale(1.02,0.92)" text-anchor="end">0</text>
<text transform="translate(318.00,134.07) scale(1.02,0.92)" text-anchor="end">300</text>
<text transform="translate(318.00,80.73) scale(1.02,0.92)" text-anchor="end">600</text>
<text transform="translate(318.00,27.40) scale(1.02,0.92)" text-anchor="end">900</text>
<text transform="translate(335.70,195.40) scale(1.02,0.92)" text-anchor="middle">250</text>
<text transform="translate(403.17,195.40) scale(1.02,0.92)" text-anchor="middle">275</text>
<text transform="translate(470.63,195.40) scale(1.02,0.92)" text-anchor="middle">300</text>
<text transform="translate(538.10,195.40) scale(1.02,0.92)" text-anchor="middle">325</text>
<text transform="translate(321.00,369.60) scale(1.02,0.92)" text-anchor="end">0</text>
<text transform="translate(321.00,316.07) scale(1.02,0.92)" text-anchor="end">300</text>
<text transform="translate(321.00,262.53) scale(1.02,0.92)" text-anchor="end">600</text>
<text transform="translate(321.00,209.00) scale(1.02,0.92)" text-anchor="end">900</text>
<text transform="translate(339.20,377.60) scale(1.02,0.92)" text-anchor="middle">250</text>
<text transform="translate(406.83,377.60) scale(1.02,0.92)" text-anchor="middle">275</text>
<text transform="translate(474.47,377.60) scale(1.02,0.92)" text-anchor="middle">300</text>
<text transform="translate(537.50,375.10) scale(1.02,0.92)" text-anchor="middle">325</text>
</g>
<line x1="193.5" y1="21.9" x2="193.5" y2="75.2" stroke="#333" stroke-width="1.4"/><path d="M191.5,73.7 L195.5,73.7 L193.5,77.7 Z" fill="#222"/>
<line x1="465" y1="18.1" x2="465" y2="75.2" stroke="#333" stroke-width="1.4"/><path d="M463.0,73.7 L467.0,73.7 L465,77.7 Z" fill="#222"/>
<line x1="200.5" y1="209" x2="200.5" y2="268.1" stroke="#333" stroke-width="1.4"/><path d="M198.5,266.6 L202.5,266.6 L200.5,270.6 Z" fill="#222"/>
<line x1="472" y1="208.4" x2="472" y2="261.2" stroke="#333" stroke-width="1.4"/><path d="M470.0,259.7 L474.0,259.7 L472,263.7 Z" fill="#222"/>
<g class="big">
<text transform="translate(243.9,153.1) scale(0.93,1.06)">1</text>
<text transform="translate(507.4,155) scale(0.93,1.06)">1</text>
<text transform="translate(247.3,339.4) scale(1.0,1.05)">2</text>
<text transform="translate(514.6,339.7) scale(1.0,1.05)">2</text>
</g>
<g class="title">
<text transform="translate(61.6,26.5) scale(1.0,0.95)">15 nm</text>
<text transform="translate(334,23.3) scale(1.0,0.95)">60 nm</text>
</g>
<g stroke="#222" stroke-width="1.5">
<line x1="18.7" y1="21" x2="18.7" y2="72.5"/>
<line x1="18.7" y1="299.5" x2="18.7" y2="367.6"/>
<line x1="49.8" y1="396.4" x2="233.2" y2="396.4"/>
<line x1="397.5" y1="396.9" x2="543.2" y2="396.9"/>
</g>
<text class="ax" x="236.4" y="401.7">Wavelength (nm)</text>
<text class="ax" style="font-size:20.9px" transform="translate(27.2,295.6) rotate(-90.27) scale(1,0.98)" x="0" y="0">Fluorescence Intennsity</text>
</svg>
</body></html>
